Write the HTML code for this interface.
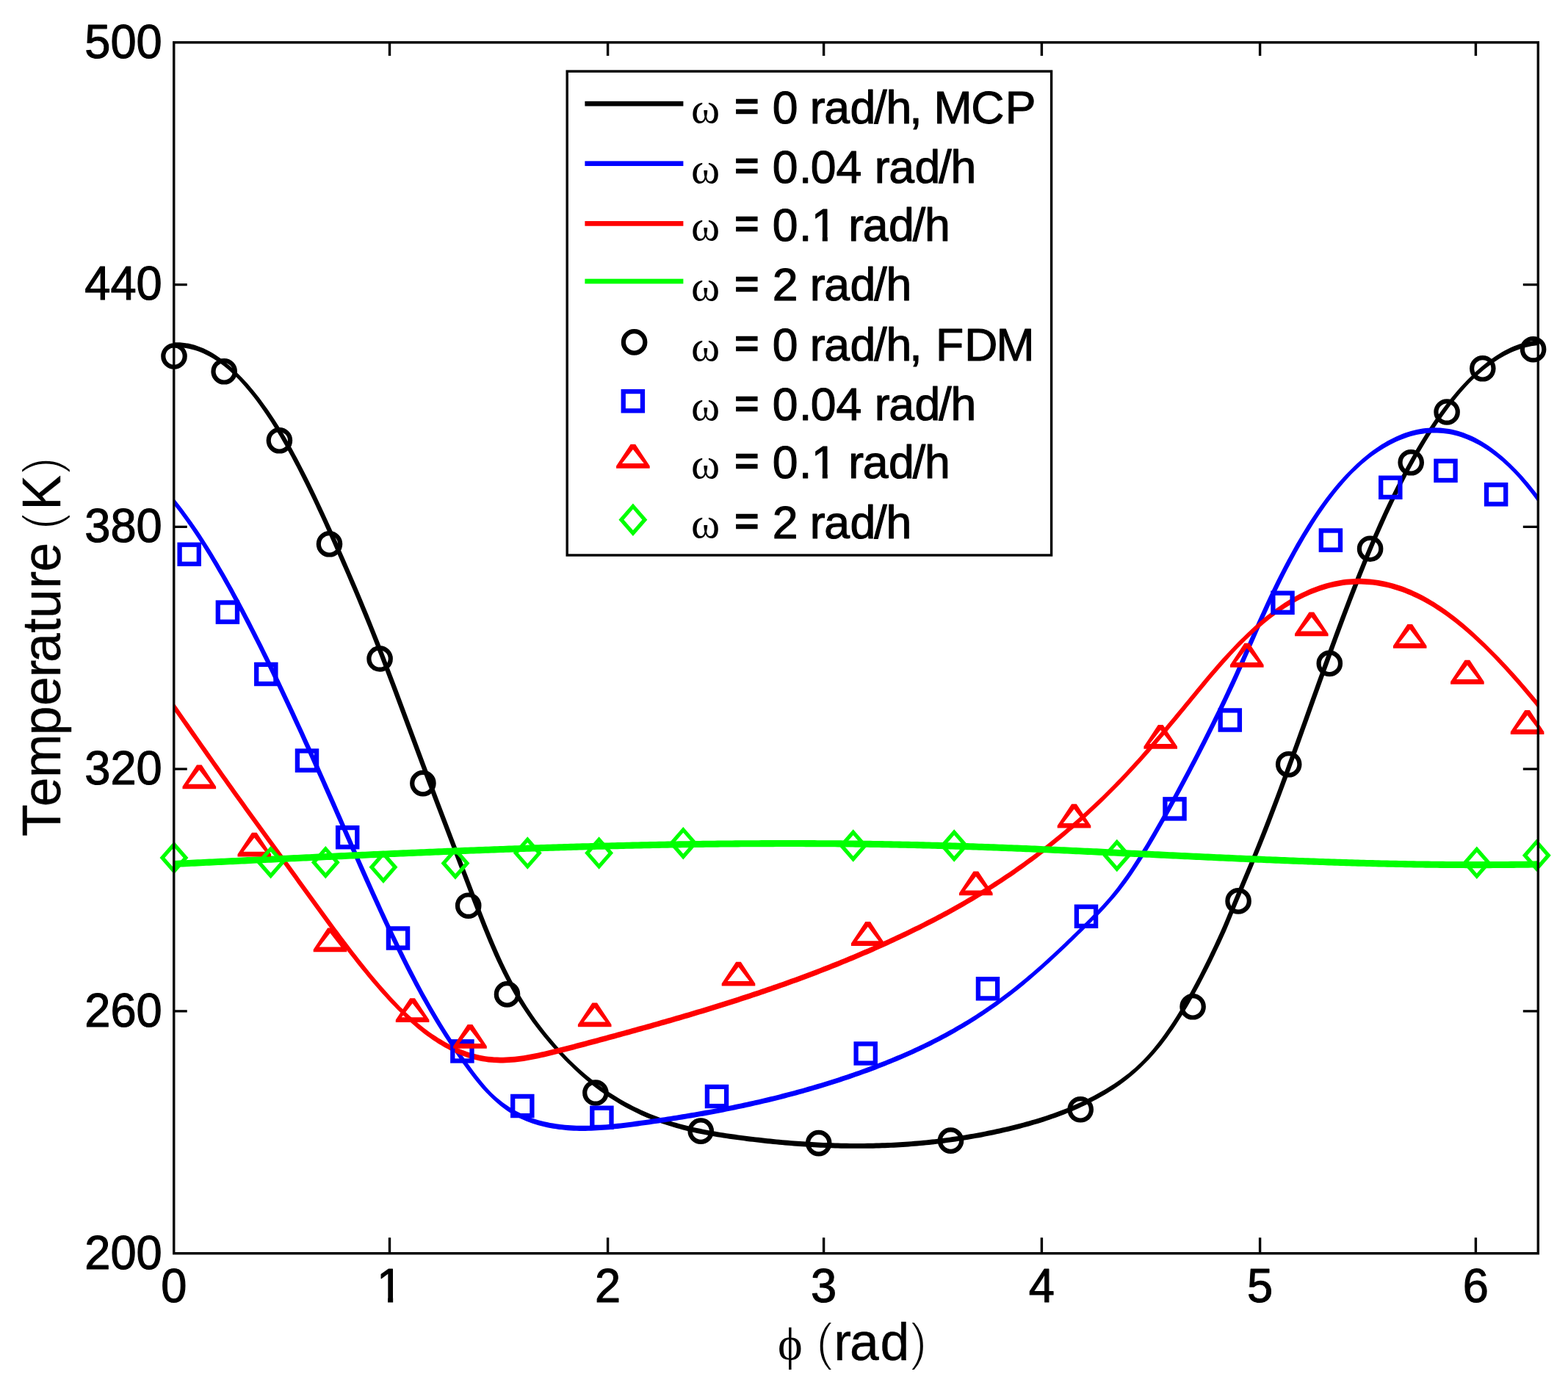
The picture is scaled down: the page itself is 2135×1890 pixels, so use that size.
<!DOCTYPE html>
<html lang="en"><head><meta charset="utf-8"><title>Temperature vs phi</title>
<style>html,body{margin:0;padding:0;background:#fff;}body{width:2135px;height:1890px;overflow:hidden;}svg{display:block;}text{font-family:"Liberation Sans", sans-serif;fill:#000;}.s{font-family:"Liberation Serif", serif;}</style>
</head><body>
<svg width="2135" height="1890" viewBox="0 0 2135 1890">
<rect x="0" y="0" width="2135" height="1890" fill="#fff"/>
<g stroke="none">
<path fill="#000" d="M237 466.35 L241 466.24 L245 466.34 L249 466.63 L253 467.14 L257 467.84 L261 468.74 L265 469.84 L269 471.14 L273 472.64 L277 474.34 L281 476.23 L285 478.32 L289 480.61 L293 483.08 L297 485.75 L301 488.62 L305 491.67 L309 494.91 L313 498.35 L317 501.97 L321 505.78 L325 509.71 L329 513.74 L333 517.95 L337 522.36 L341 526.94 L345 531.72 L349 536.67 L353 541.81 L357 547.13 L361 552.63 L365 558.31 L369 564.17 L373 570.2 L377 576.42 L381 582.81 L385 589.37 L389 596.12 L393 603.03 L397 610.12 L401 617.39 L405 624.82 L409 632.41 L413 640.15 L417 648.04 L421 656.07 L425 664.22 L429 672.5 L433 680.9 L437 689.4 L441 698.01 L445 706.71 L449 715.5 L453 724.37 L457 733.31 L461 742.32 L465 751.38 L469 760.5 L473 769.66 L477 778.89 L481 788.19 L485 797.55 L489 807 L493 816.53 L497 826.15 L501 835.87 L505 845.7 L509 855.64 L513 865.69 L517 875.85 L521 886.12 L525 896.47 L529 906.91 L533 917.42 L537 927.99 L541 938.62 L545 949.3 L549 960.01 L553 970.75 L557 981.5 L561 992.27 L565 1003.04 L569 1013.8 L573 1024.53 L577 1035.25 L581 1045.93 L585 1056.59 L589 1067.22 L593 1077.82 L597 1088.41 L601 1098.97 L605 1109.52 L609 1120.04 L613 1130.55 L617 1141.04 L621 1151.52 L625 1161.99 L629 1172.44 L633 1182.89 L637 1193.32 L641 1203.75 L645 1214.19 L649 1224.61 L653 1234.98 L657 1245.27 L661 1255.44 L665 1265.44 L669 1275.25 L673 1284.81 L677 1294.1 L681 1303.06 L685 1311.69 L689 1319.99 L693 1327.97 L697 1335.66 L701 1343.05 L705 1350.17 L709 1357.01 L713 1363.6 L717 1369.95 L721 1376.07 L725 1381.97 L729 1387.67 L733 1393.18 L737 1398.52 L741 1403.69 L745 1408.71 L749 1413.59 L753 1418.35 L757 1422.99 L761 1427.52 L765 1431.92 L769 1436.22 L773 1440.4 L777 1444.4 L781 1448.28 L785 1452.04 L789 1455.7 L793 1459.26 L797 1462.72 L801 1466.07 L805 1469.33 L809 1472.5 L813 1475.57 L817 1478.55 L821 1481.43 L825 1484.23 L829 1486.94 L833 1489.56 L837 1492.1 L841 1494.56 L845 1496.94 L849 1499.24 L853 1501.46 L857 1503.6 L861 1505.68 L865 1507.68 L869 1509.6 L873 1511.46 L877 1513.26 L881 1514.99 L885 1516.65 L889 1518.25 L893 1519.79 L897 1521.28 L901 1522.7 L905 1524.08 L909 1525.39 L913 1526.66 L917 1527.88 L921 1529.04 L925 1530.16 L929 1531.24 L933 1532.27 L937 1533.26 L941 1534.21 L945 1535.13 L949 1536 L953 1536.84 L957 1537.65 L961 1538.43 L965 1539.18 L969 1539.89 L973 1540.59 L977 1541.25 L981 1541.9 L985 1542.52 L989 1543.13 L993 1543.71 L997 1544.28 L1001 1544.84 L1005 1545.38 L1009 1545.91 L1013 1546.43 L1017 1546.94 L1021 1547.44 L1025 1547.93 L1029 1548.4 L1033 1548.87 L1037 1549.32 L1041 1549.76 L1045 1550.19 L1049 1550.61 L1053 1551.01 L1057 1551.4 L1061 1551.78 L1065 1552.15 L1069 1552.5 L1073 1552.84 L1077 1553.17 L1081 1553.49 L1085 1553.79 L1089 1554.08 L1093 1554.36 L1097 1554.62 L1101 1554.87 L1105 1555.11 L1109 1555.33 L1113 1555.54 L1117 1555.73 L1121 1555.91 L1125 1556.08 L1129 1556.23 L1133 1556.37 L1137 1556.49 L1141 1556.6 L1145 1556.69 L1149 1556.77 L1153 1556.83 L1157 1556.88 L1161 1556.91 L1165 1556.93 L1169 1556.93 L1173 1556.92 L1177 1556.89 L1181 1556.84 L1185 1556.78 L1189 1556.7 L1193 1556.61 L1197 1556.5 L1201 1556.37 L1205 1556.23 L1209 1556.07 L1213 1555.89 L1217 1555.7 L1221 1555.49 L1225 1555.26 L1229 1555.01 L1233 1554.75 L1237 1554.47 L1241 1554.17 L1245 1553.86 L1249 1553.52 L1253 1553.17 L1257 1552.8 L1261 1552.42 L1265 1552.01 L1269 1551.59 L1273 1551.14 L1277 1550.68 L1281 1550.2 L1285 1549.7 L1289 1549.19 L1293 1548.65 L1297 1548.09 L1301 1547.52 L1305 1546.92 L1309 1546.31 L1313 1545.67 L1317 1545.02 L1321 1544.34 L1325 1543.65 L1329 1542.93 L1333 1542.2 L1337 1541.44 L1341 1540.67 L1345 1539.87 L1349 1539.06 L1353 1538.22 L1357 1537.36 L1361 1536.48 L1365 1535.58 L1369 1534.65 L1373 1533.71 L1377 1532.74 L1381 1531.76 L1385 1530.75 L1389 1529.72 L1393 1528.66 L1397 1527.58 L1401 1526.47 L1405 1525.33 L1409 1524.16 L1413 1522.96 L1417 1521.72 L1421 1520.45 L1425 1519.15 L1429 1517.81 L1433 1516.42 L1437 1515 L1441 1513.54 L1445 1512.03 L1449 1510.48 L1453 1508.88 L1457 1507.24 L1461 1505.54 L1465 1503.8 L1469 1502 L1473 1500.15 L1477 1498.25 L1481 1496.28 L1485 1494.26 L1489 1492.19 L1493 1490.05 L1497 1487.85 L1501 1485.58 L1505 1483.25 L1509 1480.84 L1513 1478.35 L1517 1475.76 L1521 1473.07 L1525 1470.28 L1529 1467.37 L1533 1464.34 L1537 1461.18 L1541 1457.87 L1545 1454.42 L1549 1450.81 L1553 1447.04 L1557 1443.07 L1561 1438.8 L1565 1434.33 L1569 1429.66 L1573 1424.78 L1577 1419.71 L1581 1414.43 L1585 1408.96 L1589 1403.3 L1593 1397.44 L1597 1391.39 L1601 1385.15 L1605 1378.72 L1609 1372.11 L1613 1365.32 L1617 1358.34 L1621 1351.19 L1625 1343.86 L1629 1336.35 L1633 1328.67 L1637 1320.82 L1641 1312.81 L1645 1304.65 L1649 1296.35 L1653 1287.92 L1657 1279.36 L1661 1270.61 L1665 1261.54 L1669 1252.02 L1673 1242.16 L1677 1232.39 L1681 1222.82 L1685 1213.3 L1689 1203.82 L1693 1194.34 L1697 1184.84 L1701 1175.28 L1705 1165.65 L1709 1155.91 L1713 1146.04 L1717 1136.01 L1721 1125.84 L1725 1115.53 L1729 1105.1 L1733 1094.56 L1737 1083.91 L1741 1073.17 L1745 1062.34 L1749 1051.44 L1753 1040.46 L1757 1029.43 L1761 1018.35 L1765 1007.22 L1769 996.07 L1773 984.89 L1777 973.7 L1781 962.51 L1785 951.32 L1789 940.15 L1793 929 L1797 917.88 L1801 906.8 L1805 895.78 L1809 884.8 L1813 873.89 L1817 863.05 L1821 852.28 L1825 841.6 L1829 831 L1833 820.5 L1837 810.1 L1841 799.8 L1845 789.62 L1849 779.56 L1853 769.63 L1857 759.84 L1861 750.18 L1865 740.68 L1869 731.32 L1873 722.13 L1877 713.11 L1881 704.25 L1885 695.55 L1889 687.02 L1893 678.66 L1897 670.46 L1901 662.42 L1905 654.55 L1909 646.84 L1913 639.3 L1917 631.91 L1921 624.7 L1925 617.64 L1929 610.75 L1933 604.02 L1937 597.45 L1941 591.05 L1945 584.81 L1949 578.73 L1953 572.81 L1957 567.05 L1961 561.46 L1965 556.03 L1969 550.75 L1973 545.64 L1977 540.69 L1981 535.9 L1985 531.27 L1989 526.8 L1993 522.49 L1997 518.34 L2001 514.35 L2005 510.42 L2009 506.62 L2013 502.98 L2017 499.49 L2021 496.16 L2025 492.99 L2029 489.98 L2033 487.13 L2037 484.44 L2041 481.9 L2045 479.53 L2049 477.31 L2053 475.24 L2057 473.34 L2061 471.59 L2065 470 L2069 468.56 L2073 467.29 L2077 466.16 L2081 465.2 L2085 464.39 L2089 463.73 L2093 463.24 L2094.6 463.08 L2094.6 470.02 L2093 470.17 L2089 470.67 L2085 471.33 L2081 472.14 L2077 473.1 L2073 474.22 L2069 475.5 L2065 476.94 L2061 478.53 L2057 480.28 L2053 482.18 L2049 484.24 L2045 486.46 L2041 488.84 L2037 491.38 L2033 494.07 L2029 496.92 L2025 499.93 L2021 503.1 L2017 506.43 L2013 509.91 L2009 513.56 L2005 517.36 L2001 521.36 L1997 525.62 L1993 530.03 L1989 534.61 L1985 539.35 L1981 544.25 L1977 549.3 L1973 554.52 L1969 559.9 L1965 565.44 L1961 571.15 L1957 577.01 L1953 583.04 L1949 589.22 L1945 595.57 L1941 602.09 L1937 608.76 L1933 615.6 L1929 622.6 L1925 629.76 L1921 637.09 L1917 644.58 L1913 652.23 L1909 660.05 L1905 668.03 L1901 676.18 L1897 684.49 L1893 692.97 L1889 701.6 L1885 710.41 L1881 719.38 L1877 728.51 L1873 737.81 L1869 747.27 L1865 756.87 L1861 766.62 L1857 776.51 L1853 786.53 L1849 796.67 L1845 806.92 L1841 817.29 L1837 827.76 L1833 838.33 L1829 848.98 L1825 859.73 L1821 870.54 L1817 881.43 L1813 892.38 L1809 903.39 L1805 914.45 L1801 925.56 L1797 936.7 L1793 947.86 L1789 959.05 L1785 970.24 L1781 981.43 L1777 992.61 L1773 1003.78 L1769 1014.91 L1765 1026.01 L1761 1037.06 L1757 1048.05 L1753 1058.98 L1749 1069.84 L1745 1080.61 L1741 1091.29 L1737 1101.87 L1733 1112.34 L1729 1122.69 L1725 1132.91 L1721 1142.99 L1717 1152.92 L1713 1162.71 L1709 1172.37 L1705 1181.95 L1701 1191.47 L1697 1200.95 L1693 1210.43 L1689 1219.93 L1685 1229.48 L1681 1239.11 L1677 1248.84 L1673 1258.58 L1669 1267.97 L1665 1276.82 L1661 1285.4 L1657 1293.83 L1653 1302.17 L1649 1310.38 L1645 1318.44 L1641 1326.34 L1637 1334.08 L1633 1341.65 L1629 1349.04 L1625 1356.25 L1621 1363.28 L1617 1370.14 L1613 1376.81 L1609 1383.3 L1605 1389.6 L1601 1395.71 L1597 1401.63 L1593 1407.36 L1589 1412.9 L1585 1418.24 L1581 1423.38 L1577 1428.33 L1573 1433.07 L1569 1437.61 L1565 1441.94 L1561 1446.09 L1557 1450.06 L1553 1453.98 L1549 1457.75 L1545 1461.36 L1541 1464.81 L1537 1468.11 L1533 1471.28 L1529 1474.31 L1525 1477.22 L1521 1480.01 L1517 1482.7 L1513 1485.28 L1509 1487.78 L1505 1490.18 L1501 1492.52 L1497 1494.78 L1493 1496.98 L1489 1499.12 L1485 1501.2 L1481 1503.22 L1477 1505.18 L1473 1507.09 L1469 1508.94 L1465 1510.73 L1461 1512.48 L1457 1514.17 L1453 1515.82 L1449 1517.42 L1445 1518.97 L1441 1520.48 L1437 1521.94 L1433 1523.36 L1429 1524.74 L1425 1526.09 L1421 1527.39 L1417 1528.66 L1413 1529.89 L1409 1531.09 L1405 1532.26 L1401 1533.4 L1397 1534.51 L1393 1535.6 L1389 1536.65 L1385 1537.69 L1381 1538.69 L1377 1539.68 L1373 1540.65 L1369 1541.59 L1365 1542.51 L1361 1543.42 L1357 1544.3 L1353 1545.15 L1349 1545.99 L1345 1546.81 L1341 1547.61 L1337 1548.38 L1333 1549.14 L1329 1549.87 L1325 1550.59 L1321 1551.28 L1317 1551.95 L1313 1552.61 L1309 1553.24 L1305 1553.86 L1301 1554.45 L1297 1555.03 L1293 1555.58 L1289 1556.12 L1285 1556.64 L1281 1557.14 L1277 1557.62 L1273 1558.08 L1269 1558.52 L1265 1558.95 L1261 1559.35 L1257 1559.74 L1253 1560.11 L1249 1560.46 L1245 1560.79 L1241 1561.11 L1237 1561.41 L1233 1561.69 L1229 1561.95 L1225 1562.19 L1221 1562.42 L1217 1562.63 L1213 1562.83 L1209 1563 L1205 1563.16 L1201 1563.31 L1197 1563.43 L1193 1563.54 L1189 1563.64 L1185 1563.72 L1181 1563.78 L1177 1563.82 L1173 1563.85 L1169 1563.87 L1165 1563.87 L1161 1563.85 L1157 1563.82 L1153 1563.77 L1149 1563.7 L1145 1563.63 L1141 1563.53 L1137 1563.43 L1133 1563.3 L1129 1563.17 L1125 1563.02 L1121 1562.85 L1117 1562.67 L1113 1562.47 L1109 1562.27 L1105 1562.04 L1101 1561.81 L1097 1561.56 L1093 1561.3 L1089 1561.02 L1085 1560.73 L1081 1560.43 L1077 1560.11 L1073 1559.78 L1069 1559.44 L1065 1559.09 L1061 1558.72 L1057 1558.34 L1053 1557.95 L1049 1557.54 L1045 1557.13 L1041 1556.7 L1037 1556.26 L1033 1555.8 L1029 1555.34 L1025 1554.87 L1021 1554.38 L1017 1553.88 L1013 1553.37 L1009 1552.85 L1005 1552.32 L1001 1551.78 L997 1551.22 L993 1550.65 L989 1550.06 L985 1549.46 L981 1548.84 L977 1548.19 L973 1547.52 L969 1546.83 L965 1546.11 L961 1545.37 L957 1544.59 L953 1543.78 L949 1542.94 L945 1542.06 L941 1541.15 L937 1540.2 L933 1539.21 L929 1538.18 L925 1537.1 L921 1535.98 L917 1534.81 L913 1533.6 L909 1532.33 L905 1531.01 L901 1529.64 L897 1528.21 L893 1526.73 L889 1525.19 L885 1523.59 L881 1521.92 L877 1520.19 L873 1518.4 L869 1516.54 L865 1514.61 L861 1512.61 L857 1510.54 L853 1508.4 L849 1506.17 L845 1503.88 L841 1501.5 L837 1499.04 L833 1496.5 L829 1493.88 L825 1491.17 L821 1488.37 L817 1485.48 L813 1482.5 L809 1479.43 L805 1476.27 L801 1473.01 L797 1469.65 L793 1466.2 L789 1462.64 L785 1458.98 L781 1455.21 L777 1451.34 L773 1447.39 L769 1443.39 L765 1439.29 L761 1435.07 L757 1430.74 L753 1426.29 L749 1421.73 L745 1417.05 L741 1412.26 L737 1407.33 L733 1402.26 L729 1397.04 L725 1391.65 L721 1386.08 L717 1380.31 L713 1374.33 L709 1368.14 L705 1361.71 L701 1355.04 L697 1348.11 L693 1340.9 L689 1333.41 L685 1325.63 L681 1317.54 L677 1309.13 L673 1300.38 L669 1291.29 L665 1281.9 L661 1272.25 L657 1262.38 L653 1252.32 L649 1242.11 L645 1231.78 L641 1221.39 L637 1210.98 L633 1200.55 L629 1190.12 L625 1179.68 L621 1169.24 L617 1158.78 L613 1148.31 L609 1137.82 L605 1127.33 L601 1116.81 L597 1106.28 L593 1095.73 L589 1085.16 L585 1074.57 L581 1063.95 L577 1053.31 L573 1042.65 L569 1031.95 L565 1021.23 L561 1010.48 L557 999.72 L553 988.95 L549 978.19 L545 967.43 L541 956.7 L537 946 L533 935.34 L529 924.73 L525 914.18 L521 903.69 L517 893.28 L513 882.96 L509 872.72 L505 862.6 L501 852.59 L497 842.69 L493 832.9 L489 823.21 L485 813.62 L481 804.12 L477 794.7 L473 785.36 L469 776.09 L465 766.88 L461 757.73 L457 748.63 L453 739.58 L449 730.59 L445 721.67 L441 712.83 L437 704.07 L433 695.4 L429 686.82 L425 678.36 L421 670 L417 661.76 L413 653.64 L409 645.66 L405 637.82 L401 630.13 L397 622.59 L393 615.22 L389 608.01 L385 600.98 L381 594.12 L377 587.44 L373 580.93 L369 574.6 L365 568.44 L361 562.46 L357 556.66 L353 551.04 L349 545.61 L345 540.35 L341 535.27 L337 530.38 L333 525.67 L329 521.14 L325 516.8 L321 512.72 L317 508.91 L313 505.29 L309 501.85 L305 498.61 L301 495.55 L297 492.69 L293 490.02 L289 487.54 L285 485.26 L281 483.17 L277 481.28 L273 479.58 L269 478.08 L265 476.78 L261 475.68 L257 474.78 L253 474.07 L249 473.57 L245 473.27 L241 473.18 L237 473.28Z"/>
<path fill="#00f" d="M237 678.85 L241 683.81 L245 688.87 L249 694.07 L253 699.41 L257 704.88 L261 710.5 L265 716.24 L269 722.11 L273 728.12 L277 734.24 L281 740.48 L285 746.84 L289 753.32 L293 759.91 L297 766.6 L301 773.41 L305 780.31 L309 787.32 L313 794.42 L317 801.61 L321 808.9 L325 816.28 L329 823.74 L333 831.28 L337 838.9 L341 846.6 L345 854.38 L349 862.22 L353 870.13 L357 878.11 L361 886.16 L365 894.26 L369 902.43 L373 910.66 L377 918.95 L381 927.3 L385 935.7 L389 944.15 L393 952.65 L397 961.2 L401 969.8 L405 978.44 L409 987.13 L413 995.86 L417 1004.63 L421 1013.43 L425 1022.27 L429 1031.15 L433 1040.06 L437 1049 L441 1057.97 L445 1066.96 L449 1075.98 L453 1085.02 L457 1094.09 L461 1103.18 L465 1112.28 L469 1121.39 L473 1130.51 L477 1139.62 L481 1148.73 L485 1157.84 L489 1166.92 L493 1175.98 L497 1185.02 L501 1194.03 L505 1202.99 L509 1211.92 L513 1220.79 L517 1229.61 L521 1238.38 L525 1247.08 L529 1255.71 L533 1264.26 L537 1272.73 L541 1281.12 L545 1289.42 L549 1297.62 L553 1305.72 L557 1313.71 L561 1321.59 L565 1329.36 L569 1337 L573 1344.5 L577 1351.88 L581 1359.12 L585 1366.23 L589 1373.21 L593 1380.07 L597 1386.8 L601 1393.42 L605 1399.91 L609 1406.29 L613 1412.56 L617 1418.72 L621 1424.77 L625 1430.71 L629 1436.55 L633 1442.29 L637 1447.94 L641 1453.5 L645 1458.93 L649 1464.23 L653 1469.35 L657 1474.29 L661 1479.02 L665 1483.5 L669 1487.65 L673 1491.44 L677 1495 L681 1498.33 L685 1501.45 L689 1504.36 L693 1507.08 L697 1509.6 L701 1511.94 L705 1514.11 L709 1516.12 L713 1517.96 L717 1519.66 L721 1521.22 L725 1522.65 L729 1523.95 L733 1525.13 L737 1526.21 L741 1527.19 L745 1528.08 L749 1528.89 L753 1529.61 L757 1530.25 L761 1530.81 L765 1531.3 L769 1531.72 L773 1532.06 L777 1532.35 L781 1532.56 L785 1532.72 L789 1532.81 L793 1532.85 L797 1532.84 L801 1532.77 L805 1532.65 L809 1532.49 L813 1532.29 L817 1532.04 L821 1531.76 L825 1531.44 L829 1531.09 L833 1530.7 L837 1530.29 L841 1529.86 L845 1529.4 L849 1528.92 L853 1528.42 L857 1527.91 L861 1527.39 L865 1526.85 L869 1526.31 L873 1525.76 L877 1525.21 L881 1524.65 L885 1524.08 L889 1523.51 L893 1522.93 L897 1522.34 L901 1521.75 L905 1521.14 L909 1520.54 L913 1519.92 L917 1519.29 L921 1518.66 L925 1518.02 L929 1517.37 L933 1516.71 L937 1516.05 L941 1515.37 L945 1514.69 L949 1514 L953 1513.3 L957 1512.58 L961 1511.86 L965 1511.13 L969 1510.4 L973 1509.65 L977 1508.89 L981 1508.12 L985 1507.34 L989 1506.55 L993 1505.75 L997 1504.94 L1001 1504.12 L1005 1503.28 L1009 1502.44 L1013 1501.58 L1017 1500.72 L1021 1499.84 L1025 1498.95 L1029 1498.05 L1033 1497.13 L1037 1496.21 L1041 1495.27 L1045 1494.32 L1049 1493.36 L1053 1492.38 L1057 1491.39 L1061 1490.39 L1065 1489.37 L1069 1488.35 L1073 1487.3 L1077 1486.25 L1081 1485.18 L1085 1484.1 L1089 1483 L1093 1481.89 L1097 1480.76 L1101 1479.62 L1105 1478.47 L1109 1477.3 L1113 1476.11 L1117 1474.91 L1121 1473.7 L1125 1472.47 L1129 1471.22 L1133 1469.96 L1137 1468.69 L1141 1467.39 L1145 1466.08 L1149 1464.76 L1153 1463.42 L1157 1462.06 L1161 1460.69 L1165 1459.29 L1169 1457.89 L1173 1456.46 L1177 1455.02 L1181 1453.56 L1185 1452.08 L1189 1450.58 L1193 1449.07 L1197 1447.53 L1201 1445.98 L1205 1444.4 L1209 1442.8 L1213 1441.18 L1217 1439.54 L1221 1437.87 L1225 1436.18 L1229 1434.47 L1233 1432.73 L1237 1430.96 L1241 1429.17 L1245 1427.35 L1249 1425.5 L1253 1423.62 L1257 1421.71 L1261 1419.77 L1265 1417.81 L1269 1415.81 L1273 1413.77 L1277 1411.71 L1281 1409.61 L1285 1407.48 L1289 1405.32 L1293 1403.12 L1297 1400.88 L1301 1398.61 L1305 1396.3 L1309 1393.95 L1313 1391.57 L1317 1389.14 L1321 1386.68 L1325 1384.17 L1329 1381.63 L1333 1379.04 L1337 1376.41 L1341 1373.74 L1345 1371.02 L1349 1368.26 L1353 1365.46 L1357 1362.61 L1361 1359.71 L1365 1356.77 L1369 1353.78 L1373 1350.74 L1377 1347.65 L1381 1344.52 L1385 1341.33 L1389 1338.1 L1393 1334.81 L1397 1331.49 L1401 1328.11 L1405 1324.7 L1409 1321.24 L1413 1317.74 L1417 1314.2 L1421 1310.63 L1425 1307.02 L1429 1303.37 L1433 1299.69 L1437 1295.98 L1441 1292.23 L1445 1288.46 L1449 1284.66 L1453 1280.83 L1457 1276.98 L1461 1273.11 L1465 1269.21 L1469 1265.29 L1473 1261.35 L1477 1257.39 L1481 1253.42 L1485 1249.41 L1489 1245.34 L1493 1241.21 L1497 1236.99 L1501 1232.66 L1505 1228.22 L1509 1223.63 L1513 1218.9 L1517 1213.99 L1521 1208.9 L1525 1203.6 L1529 1198.12 L1533 1192.46 L1537 1186.64 L1541 1180.65 L1545 1174.51 L1549 1168.24 L1553 1161.82 L1557 1155.29 L1561 1148.63 L1565 1141.87 L1569 1135.01 L1573 1128.05 L1577 1121.02 L1581 1113.91 L1585 1106.73 L1589 1099.5 L1593 1092.22 L1597 1084.89 L1601 1077.52 L1605 1070.09 L1609 1062.61 L1613 1055.08 L1617 1047.5 L1621 1039.86 L1625 1032.17 L1629 1024.42 L1633 1016.61 L1637 1008.74 L1641 1000.8 L1645 992.81 L1649 984.74 L1653 976.6 L1657 968.38 L1661 960.07 L1665 951.68 L1669 943.19 L1673 934.61 L1677 925.93 L1681 917.13 L1685 908.23 L1689 899.22 L1693 890.13 L1697 880.99 L1701 871.84 L1705 862.7 L1709 853.61 L1713 844.6 L1717 835.69 L1721 826.91 L1725 818.29 L1729 809.83 L1733 801.51 L1737 793.35 L1741 785.35 L1745 777.5 L1749 769.8 L1753 762.26 L1757 754.88 L1761 747.66 L1765 740.6 L1769 733.7 L1773 726.97 L1777 720.39 L1781 713.98 L1785 707.74 L1789 701.66 L1793 695.75 L1797 690 L1801 684.43 L1805 679.03 L1809 673.79 L1813 668.72 L1817 663.82 L1821 659.08 L1825 654.5 L1829 650.08 L1833 645.83 L1837 641.73 L1841 637.78 L1845 633.86 L1849 630.09 L1853 626.48 L1857 623.02 L1861 619.71 L1865 616.54 L1869 613.53 L1873 610.66 L1877 607.93 L1881 605.34 L1885 602.9 L1889 600.59 L1893 598.43 L1897 596.39 L1901 594.5 L1905 592.74 L1909 591.11 L1913 589.62 L1917 588.26 L1921 587.05 L1925 585.97 L1929 585.03 L1933 584.23 L1937 583.56 L1941 583.04 L1945 582.66 L1949 582.43 L1953 582.33 L1957 582.38 L1961 582.57 L1965 582.91 L1969 583.39 L1973 584.02 L1977 584.79 L1981 585.71 L1985 586.78 L1989 588 L1993 589.37 L1997 590.89 L2001 592.56 L2005 594.37 L2009 596.35 L2013 598.47 L2017 600.75 L2021 603.18 L2025 605.76 L2029 608.5 L2033 611.4 L2037 614.45 L2041 617.67 L2045 621.03 L2049 624.56 L2053 628.25 L2057 632.09 L2061 636.03 L2065 640.06 L2069 644.26 L2073 648.61 L2077 653.13 L2081 657.82 L2085 662.66 L2089 667.68 L2093 672.85 L2094.5 674.86 L2094.5 684.32 L2093 682.26 L2089 676.8 L2085 671.51 L2081 666.39 L2077 661.43 L2073 656.64 L2069 652.01 L2065 647.55 L2061 643.24 L2057 639.16 L2053 635.32 L2049 631.63 L2045 628.1 L2041 624.74 L2037 621.52 L2033 618.47 L2029 615.57 L2025 612.83 L2021 610.25 L2017 607.82 L2013 605.54 L2009 603.42 L2005 601.44 L2001 599.63 L1997 597.96 L1993 596.44 L1989 595.07 L1985 593.85 L1981 592.78 L1977 591.86 L1973 591.09 L1969 590.46 L1965 589.98 L1961 589.64 L1957 589.45 L1953 589.4 L1949 589.5 L1945 589.73 L1941 590.11 L1937 590.63 L1933 591.3 L1929 592.1 L1925 593.04 L1921 594.12 L1917 595.33 L1913 596.69 L1909 598.18 L1905 599.81 L1901 601.57 L1897 603.46 L1893 605.5 L1889 607.66 L1885 609.97 L1881 612.41 L1877 615 L1873 617.73 L1869 620.6 L1865 623.61 L1861 626.78 L1857 630.09 L1853 633.55 L1849 637.16 L1845 640.93 L1841 644.85 L1837 649.05 L1833 653.42 L1829 657.94 L1825 662.63 L1821 667.48 L1817 672.49 L1813 677.67 L1809 683.02 L1805 688.53 L1801 694.22 L1797 700.07 L1793 706.1 L1789 712.29 L1785 718.64 L1781 725.16 L1777 731.84 L1773 738.69 L1769 745.7 L1765 752.87 L1761 760.19 L1757 767.68 L1753 775.32 L1749 783.12 L1745 791.07 L1741 799.18 L1737 807.45 L1733 815.86 L1729 824.43 L1725 833.14 L1721 842 L1717 850.98 L1713 860.05 L1709 869.18 L1705 878.33 L1701 887.47 L1697 896.58 L1693 905.63 L1689 914.58 L1685 923.42 L1681 932.14 L1677 940.75 L1673 949.27 L1669 957.7 L1665 966.03 L1661 974.28 L1657 982.45 L1653 990.54 L1649 998.56 L1645 1006.51 L1641 1014.4 L1637 1022.23 L1633 1030 L1629 1037.71 L1625 1045.37 L1621 1052.97 L1617 1060.52 L1613 1068.01 L1609 1075.45 L1605 1082.85 L1601 1090.19 L1597 1097.48 L1593 1104.73 L1589 1111.92 L1585 1119.06 L1581 1126.12 L1577 1133.1 L1573 1139.99 L1569 1146.79 L1565 1153.48 L1561 1160.06 L1557 1166.51 L1553 1172.84 L1549 1179.02 L1545 1185.06 L1541 1190.94 L1537 1196.65 L1533 1202.2 L1529 1207.56 L1525 1212.72 L1521 1217.7 L1517 1222.49 L1513 1227.12 L1509 1231.61 L1505 1235.97 L1501 1240.23 L1497 1244.39 L1493 1248.48 L1489 1252.51 L1485 1256.51 L1481 1260.49 L1477 1264.46 L1473 1268.42 L1469 1272.36 L1465 1276.28 L1461 1280.18 L1457 1284.05 L1453 1287.91 L1449 1291.73 L1445 1295.53 L1441 1299.3 L1437 1303.05 L1433 1306.76 L1429 1310.44 L1425 1314.09 L1421 1317.7 L1417 1321.27 L1413 1324.81 L1409 1328.31 L1405 1331.77 L1401 1335.18 L1397 1338.56 L1393 1341.89 L1389 1345.17 L1385 1348.4 L1381 1351.59 L1377 1354.72 L1373 1357.81 L1369 1360.85 L1365 1363.84 L1361 1366.78 L1357 1369.68 L1353 1372.53 L1349 1375.33 L1345 1378.09 L1341 1380.81 L1337 1383.48 L1333 1386.11 L1329 1388.7 L1325 1391.24 L1321 1393.75 L1317 1396.21 L1313 1398.64 L1309 1401.02 L1305 1403.37 L1301 1405.68 L1297 1407.95 L1293 1410.19 L1289 1412.39 L1285 1414.55 L1281 1416.68 L1277 1418.78 L1273 1420.85 L1269 1422.88 L1265 1424.88 L1261 1426.84 L1257 1428.78 L1253 1430.69 L1249 1432.57 L1245 1434.42 L1241 1436.24 L1237 1438.03 L1233 1439.8 L1229 1441.54 L1225 1443.25 L1221 1444.94 L1217 1446.61 L1213 1448.25 L1209 1449.87 L1205 1451.47 L1201 1453.05 L1197 1454.6 L1193 1456.14 L1189 1457.65 L1185 1459.15 L1181 1460.63 L1177 1462.09 L1173 1463.53 L1169 1464.96 L1165 1466.36 L1161 1467.76 L1157 1469.13 L1153 1470.49 L1149 1471.83 L1145 1473.15 L1141 1474.46 L1137 1475.76 L1133 1477.03 L1129 1478.29 L1125 1479.54 L1121 1480.77 L1117 1481.98 L1113 1483.18 L1109 1484.37 L1105 1485.54 L1101 1486.69 L1097 1487.83 L1093 1488.96 L1089 1490.07 L1085 1491.17 L1081 1492.25 L1077 1493.32 L1073 1494.37 L1069 1495.42 L1065 1496.44 L1061 1497.46 L1057 1498.46 L1053 1499.45 L1049 1500.43 L1045 1501.39 L1041 1502.34 L1037 1503.28 L1033 1504.2 L1029 1505.12 L1025 1506.02 L1021 1506.91 L1017 1507.79 L1013 1508.65 L1009 1509.51 L1005 1510.35 L1001 1511.19 L997 1512.01 L993 1512.82 L989 1513.62 L985 1514.41 L981 1515.19 L977 1515.96 L973 1516.72 L969 1517.47 L965 1518.21 L961 1518.93 L957 1519.65 L953 1520.37 L949 1521.07 L945 1521.76 L941 1522.44 L937 1523.12 L933 1523.78 L929 1524.44 L925 1525.09 L921 1525.73 L917 1526.36 L913 1526.99 L909 1527.61 L905 1528.21 L901 1528.82 L897 1529.41 L893 1530 L889 1530.58 L885 1531.15 L881 1531.72 L877 1532.28 L873 1532.83 L869 1533.38 L865 1533.92 L861 1534.46 L857 1534.98 L853 1535.49 L849 1535.99 L845 1536.47 L841 1536.93 L837 1537.36 L833 1537.77 L829 1538.16 L825 1538.51 L821 1538.83 L817 1539.11 L813 1539.36 L809 1539.56 L805 1539.72 L801 1539.84 L797 1539.91 L793 1539.92 L789 1539.88 L785 1539.79 L781 1539.63 L777 1539.42 L773 1539.14 L769 1538.79 L765 1538.37 L761 1537.88 L757 1537.32 L753 1536.68 L749 1535.96 L745 1535.15 L741 1534.26 L737 1533.28 L733 1532.2 L729 1531.02 L725 1529.72 L721 1528.29 L717 1526.73 L713 1525.03 L709 1523.19 L705 1521.18 L701 1519.01 L697 1516.67 L693 1514.15 L689 1511.43 L685 1508.52 L681 1505.4 L677 1502.07 L673 1498.51 L669 1494.72 L665 1490.82 L661 1486.76 L657 1482.43 L653 1477.86 L649 1473.06 L645 1468.05 L641 1462.87 L637 1457.52 L633 1452.05 L629 1446.47 L625 1440.8 L621 1435.02 L617 1429.15 L613 1423.17 L609 1417.08 L605 1410.89 L601 1404.59 L597 1398.17 L593 1391.63 L589 1384.98 L585 1378.21 L581 1371.31 L577 1364.28 L573 1357.13 L569 1349.84 L565 1342.42 L561 1334.87 L557 1327.19 L553 1319.38 L549 1311.47 L545 1303.44 L541 1295.3 L537 1287.07 L533 1278.74 L529 1270.32 L525 1261.82 L521 1253.24 L517 1244.59 L513 1235.87 L509 1227.08 L505 1218.24 L501 1209.35 L497 1200.41 L493 1191.43 L489 1182.42 L485 1173.37 L481 1164.3 L477 1155.21 L473 1146.1 L469 1136.99 L465 1127.87 L461 1118.75 L457 1109.65 L453 1100.55 L449 1091.47 L445 1082.41 L441 1073.38 L437 1064.37 L433 1055.38 L429 1046.42 L425 1037.49 L421 1028.59 L417 1019.73 L413 1010.9 L409 1002.1 L405 993.35 L401 984.64 L397 975.96 L393 967.33 L389 958.75 L385 950.22 L381 941.73 L377 933.3 L373 924.92 L369 916.59 L365 908.32 L361 900.11 L357 891.96 L353 883.87 L349 875.85 L345 867.89 L341 860 L337 852.18 L333 844.43 L329 836.76 L325 829.16 L321 821.65 L317 814.21 L313 806.87 L309 799.61 L305 792.44 L301 785.37 L297 778.4 L293 771.53 L289 764.76 L285 758.1 L281 751.55 L277 745.11 L273 738.79 L269 732.59 L265 726.5 L261 720.55 L257 714.71 L253 709.01 L249 703.45 L245 698.01 L241 692.72 L237 687.63Z"/>
<path fill="#f00" d="M237 957.13 L241 962.81 L245 968.49 L249 974.18 L253 979.88 L257 985.58 L261 991.29 L265 997 L269 1002.71 L273 1008.42 L277 1014.13 L281 1019.84 L285 1025.54 L289 1031.23 L293 1036.91 L297 1042.59 L301 1048.26 L305 1053.91 L309 1059.55 L313 1065.17 L317 1070.78 L321 1076.38 L325 1081.96 L329 1087.53 L333 1093.08 L337 1098.63 L341 1104.17 L345 1109.7 L349 1115.22 L353 1120.74 L357 1126.25 L361 1131.76 L365 1137.26 L369 1142.77 L373 1148.27 L377 1153.77 L381 1159.27 L385 1164.77 L389 1170.28 L393 1175.79 L397 1181.3 L401 1186.82 L405 1192.35 L409 1197.89 L413 1203.43 L417 1208.97 L421 1214.51 L425 1220.05 L429 1225.58 L433 1231.11 L437 1236.62 L441 1242.11 L445 1247.6 L449 1253.06 L453 1258.49 L457 1263.91 L461 1269.29 L465 1274.64 L469 1279.96 L473 1285.25 L477 1290.49 L481 1295.7 L485 1300.85 L489 1305.97 L493 1311.03 L497 1316.03 L501 1320.99 L505 1325.88 L509 1330.71 L513 1335.48 L517 1340.18 L521 1344.81 L525 1349.37 L529 1353.84 L533 1358.23 L537 1362.54 L541 1366.76 L545 1370.88 L549 1374.83 L553 1378.68 L557 1382.42 L561 1386.05 L565 1389.56 L569 1392.97 L573 1396.25 L577 1399.41 L581 1402.46 L585 1405.38 L589 1408.18 L593 1410.86 L597 1413.42 L601 1415.86 L605 1418.18 L609 1420.38 L613 1422.46 L617 1424.43 L621 1426.27 L625 1427.99 L629 1429.59 L633 1431.08 L637 1432.44 L641 1433.69 L645 1434.81 L649 1435.82 L653 1436.71 L657 1437.48 L661 1438.13 L665 1438.66 L669 1439.08 L673 1439.38 L677 1439.57 L681 1439.66 L685 1439.65 L689 1439.54 L693 1439.35 L697 1439.07 L701 1438.71 L705 1438.27 L709 1437.76 L713 1437.19 L717 1436.55 L721 1435.85 L725 1435.11 L729 1434.31 L733 1433.48 L737 1432.6 L741 1431.69 L745 1430.76 L749 1429.79 L753 1428.81 L757 1427.81 L761 1426.81 L765 1425.79 L769 1424.77 L773 1423.74 L777 1422.7 L781 1421.66 L785 1420.61 L789 1419.56 L793 1418.5 L797 1417.44 L801 1416.37 L805 1415.3 L809 1414.23 L813 1413.15 L817 1412.08 L821 1411 L825 1409.91 L829 1408.83 L833 1407.75 L837 1406.66 L841 1405.57 L845 1404.48 L849 1403.38 L853 1402.28 L857 1401.18 L861 1400.08 L865 1398.97 L869 1397.87 L873 1396.75 L877 1395.64 L881 1394.52 L885 1393.39 L889 1392.27 L893 1391.14 L897 1390 L901 1388.86 L905 1387.72 L909 1386.57 L913 1385.42 L917 1384.27 L921 1383.1 L925 1381.94 L929 1380.77 L933 1379.59 L937 1378.41 L941 1377.22 L945 1376.03 L949 1374.83 L953 1373.63 L957 1372.42 L961 1371.21 L965 1369.99 L969 1368.76 L973 1367.52 L977 1366.28 L981 1365.04 L985 1363.78 L989 1362.52 L993 1361.26 L997 1359.98 L1001 1358.7 L1005 1357.41 L1009 1356.12 L1013 1354.81 L1017 1353.5 L1021 1352.18 L1025 1350.86 L1029 1349.52 L1033 1348.18 L1037 1346.83 L1041 1345.47 L1045 1344.1 L1049 1342.72 L1053 1341.34 L1057 1339.94 L1061 1338.54 L1065 1337.13 L1069 1335.71 L1073 1334.27 L1077 1332.83 L1081 1331.38 L1085 1329.92 L1089 1328.45 L1093 1326.97 L1097 1325.48 L1101 1323.98 L1105 1322.47 L1109 1320.95 L1113 1319.42 L1117 1317.88 L1121 1316.32 L1125 1314.76 L1129 1313.18 L1133 1311.6 L1137 1310 L1141 1308.39 L1145 1306.77 L1149 1305.14 L1153 1303.49 L1157 1301.83 L1161 1300.17 L1165 1298.49 L1169 1296.79 L1173 1295.09 L1177 1293.37 L1181 1291.64 L1185 1289.9 L1189 1288.14 L1193 1286.37 L1197 1284.59 L1201 1282.79 L1205 1280.98 L1209 1279.16 L1213 1277.32 L1217 1275.47 L1221 1273.61 L1225 1271.73 L1229 1269.84 L1233 1267.93 L1237 1266 L1241 1264.06 L1245 1262.11 L1249 1260.13 L1253 1258.14 L1257 1256.14 L1261 1254.11 L1265 1252.07 L1269 1250 L1273 1247.92 L1277 1245.82 L1281 1243.69 L1285 1241.55 L1289 1239.39 L1293 1237.2 L1297 1235 L1301 1232.77 L1305 1230.51 L1309 1228.24 L1313 1225.94 L1317 1223.62 L1321 1221.27 L1325 1218.9 L1329 1216.51 L1333 1214.09 L1337 1211.64 L1341 1209.16 L1345 1206.66 L1349 1204.14 L1353 1201.58 L1357 1199 L1361 1196.39 L1365 1193.75 L1369 1191.08 L1373 1188.38 L1377 1185.65 L1381 1182.89 L1385 1180.1 L1389 1177.28 L1393 1174.42 L1397 1171.54 L1401 1168.62 L1405 1165.67 L1409 1162.68 L1413 1159.67 L1417 1156.61 L1421 1153.53 L1425 1150.41 L1429 1147.25 L1433 1144.05 L1437 1140.83 L1441 1137.56 L1445 1134.26 L1449 1130.92 L1453 1127.54 L1457 1124.12 L1461 1120.66 L1465 1117.17 L1469 1113.64 L1473 1110.06 L1477 1106.45 L1481 1102.79 L1485 1099.1 L1489 1095.36 L1493 1091.58 L1497 1087.75 L1501 1083.89 L1505 1079.98 L1509 1076.03 L1513 1072.02 L1517 1067.94 L1521 1063.81 L1525 1059.64 L1529 1055.43 L1533 1051.17 L1537 1046.86 L1541 1042.5 L1545 1038.1 L1549 1033.65 L1553 1029.15 L1557 1024.61 L1561 1020.04 L1565 1015.42 L1569 1010.77 L1573 1006.09 L1577 1001.38 L1581 996.64 L1585 991.88 L1589 987.09 L1593 982.29 L1597 977.46 L1601 972.62 L1605 967.77 L1609 962.9 L1613 958.03 L1617 953.15 L1621 948.26 L1625 943.39 L1629 938.53 L1633 933.68 L1637 928.86 L1641 924.08 L1645 919.33 L1649 914.62 L1653 909.97 L1657 905.37 L1661 900.83 L1665 896.36 L1669 891.96 L1673 887.64 L1677 883.39 L1681 879.22 L1685 875.12 L1689 871.11 L1693 867.14 L1697 863.22 L1701 859.39 L1705 855.65 L1709 851.99 L1713 848.43 L1717 844.96 L1721 841.59 L1725 838.31 L1729 835.14 L1733 832.06 L1737 829.09 L1741 826.23 L1745 823.47 L1749 820.81 L1753 818.26 L1757 815.81 L1761 813.47 L1765 811.23 L1769 809.09 L1773 807.06 L1777 805.13 L1781 803.3 L1785 801.58 L1789 799.96 L1793 798.44 L1797 797.02 L1801 795.71 L1805 794.5 L1809 793.39 L1813 792.38 L1817 791.47 L1821 790.67 L1825 789.96 L1829 789.36 L1833 788.86 L1837 788.46 L1841 788.16 L1845 787.96 L1849 787.87 L1853 787.87 L1857 787.97 L1861 788.17 L1865 788.48 L1869 788.88 L1873 789.38 L1877 789.98 L1881 790.68 L1885 791.48 L1889 792.38 L1893 793.38 L1897 794.47 L1901 795.67 L1905 796.96 L1909 798.35 L1913 799.84 L1917 801.43 L1921 803.11 L1925 804.9 L1929 806.77 L1933 808.75 L1937 810.83 L1941 813 L1945 815.26 L1949 817.63 L1953 820.09 L1957 822.64 L1961 825.29 L1965 828.02 L1969 830.85 L1973 833.76 L1977 836.76 L1981 839.85 L1985 843.02 L1989 846.26 L1993 849.59 L1997 853 L2001 856.49 L2005 860.05 L2009 863.68 L2013 867.39 L2017 871.17 L2021 875.02 L2025 878.94 L2029 882.91 L2033 886.9 L2037 890.96 L2041 895.08 L2045 899.27 L2049 903.51 L2053 907.81 L2057 912.18 L2061 916.59 L2065 921.06 L2069 925.59 L2073 930.16 L2077 934.78 L2081 939.46 L2085 944.18 L2089 948.94 L2093 953.75 L2094.5 955.57 L2094.5 964.76 L2093 962.92 L2089 958.05 L2085 953.21 L2081 948.42 L2077 943.67 L2073 938.96 L2069 934.31 L2065 929.7 L2061 925.14 L2057 920.64 L2053 916.18 L2049 911.79 L2045 907.44 L2041 903.16 L2037 898.93 L2033 894.77 L2029 890.67 L2025 886.67 L2021 882.76 L2017 878.91 L2013 875.13 L2009 871.42 L2005 867.79 L2001 864.22 L1997 860.74 L1993 857.33 L1989 854 L1985 850.75 L1981 847.58 L1977 844.5 L1973 841.5 L1969 838.59 L1965 835.76 L1961 833.02 L1957 830.38 L1953 827.83 L1949 825.37 L1945 823 L1941 820.73 L1937 818.56 L1933 816.49 L1929 814.51 L1925 812.63 L1921 810.85 L1917 809.17 L1913 807.58 L1909 806.09 L1905 804.7 L1901 803.41 L1897 802.21 L1893 801.12 L1889 800.12 L1885 799.22 L1881 798.42 L1877 797.72 L1873 797.12 L1869 796.62 L1865 796.21 L1861 795.91 L1857 795.71 L1853 795.61 L1849 795.6 L1845 795.7 L1841 795.9 L1837 796.2 L1833 796.6 L1829 797.1 L1825 797.7 L1821 798.4 L1817 799.21 L1813 800.12 L1809 801.12 L1805 802.23 L1801 803.44 L1797 804.76 L1793 806.17 L1789 807.69 L1785 809.31 L1781 811.04 L1777 812.87 L1773 814.8 L1769 816.83 L1765 818.97 L1761 821.21 L1757 823.55 L1753 826 L1749 828.55 L1745 831.21 L1741 833.97 L1737 836.83 L1733 839.8 L1729 842.87 L1725 846.05 L1721 849.32 L1717 852.7 L1713 856.17 L1709 859.73 L1705 863.38 L1701 867.13 L1697 870.96 L1693 874.88 L1689 878.91 L1685 883.06 L1681 887.28 L1677 891.58 L1673 895.96 L1669 900.4 L1665 904.91 L1661 909.49 L1657 914.13 L1653 918.82 L1649 923.56 L1645 928.33 L1641 933.14 L1637 937.98 L1633 942.83 L1629 947.71 L1625 952.59 L1621 957.47 L1617 962.35 L1613 967.21 L1609 972.07 L1605 976.92 L1601 981.75 L1597 986.56 L1593 991.36 L1589 996.13 L1585 1000.88 L1581 1005.6 L1577 1010.29 L1573 1014.95 L1569 1019.57 L1565 1024.16 L1561 1028.71 L1557 1033.22 L1553 1037.69 L1549 1042.11 L1545 1046.48 L1541 1050.81 L1537 1055.08 L1533 1059.31 L1529 1063.5 L1525 1067.64 L1521 1071.73 L1517 1075.78 L1513 1079.78 L1509 1083.76 L1505 1087.72 L1501 1091.63 L1497 1095.49 L1493 1099.31 L1489 1103.09 L1485 1106.83 L1481 1110.53 L1477 1114.18 L1473 1117.8 L1469 1121.37 L1465 1124.91 L1461 1128.4 L1457 1131.86 L1453 1135.27 L1449 1138.65 L1445 1141.99 L1441 1145.3 L1437 1148.56 L1433 1151.79 L1429 1154.99 L1425 1158.14 L1421 1161.26 L1417 1164.35 L1413 1167.4 L1409 1170.42 L1405 1173.41 L1401 1176.36 L1397 1179.27 L1393 1182.16 L1389 1185.01 L1385 1187.84 L1381 1190.63 L1377 1193.39 L1373 1196.11 L1369 1198.81 L1365 1201.48 L1361 1204.12 L1357 1206.74 L1353 1209.32 L1349 1211.87 L1345 1214.4 L1341 1216.9 L1337 1219.38 L1333 1221.82 L1329 1224.24 L1325 1226.64 L1321 1229.01 L1317 1231.36 L1313 1233.68 L1309 1235.98 L1305 1238.25 L1301 1240.5 L1297 1242.73 L1293 1244.94 L1289 1247.13 L1285 1249.29 L1281 1251.43 L1277 1253.55 L1273 1255.66 L1269 1257.74 L1265 1259.8 L1261 1261.85 L1257 1263.87 L1253 1265.88 L1249 1267.87 L1245 1269.84 L1241 1271.8 L1237 1273.74 L1233 1275.66 L1229 1277.57 L1225 1279.47 L1221 1281.35 L1217 1283.21 L1213 1285.06 L1209 1286.9 L1205 1288.72 L1201 1290.53 L1197 1292.32 L1193 1294.11 L1189 1295.88 L1185 1297.63 L1181 1299.38 L1177 1301.11 L1173 1302.82 L1169 1304.53 L1165 1306.22 L1161 1307.9 L1157 1309.57 L1153 1311.23 L1149 1312.87 L1145 1314.51 L1141 1316.13 L1137 1317.74 L1133 1319.33 L1129 1320.92 L1125 1322.5 L1121 1324.06 L1117 1325.61 L1113 1327.16 L1109 1328.69 L1105 1330.21 L1101 1331.72 L1097 1333.22 L1093 1334.71 L1089 1336.19 L1085 1337.66 L1081 1339.12 L1077 1340.57 L1073 1342.01 L1069 1343.44 L1065 1344.86 L1061 1346.28 L1057 1347.68 L1053 1349.07 L1049 1350.46 L1045 1351.84 L1041 1353.21 L1037 1354.57 L1033 1355.92 L1029 1357.26 L1025 1358.59 L1021 1359.92 L1017 1361.24 L1013 1362.55 L1009 1363.86 L1005 1365.15 L1001 1366.44 L997 1367.72 L993 1368.99 L989 1370.26 L985 1371.52 L981 1372.78 L977 1374.02 L973 1375.26 L969 1376.5 L965 1377.72 L961 1378.94 L957 1380.16 L953 1381.37 L949 1382.57 L945 1383.77 L941 1384.96 L937 1386.15 L933 1387.33 L929 1388.5 L925 1389.68 L921 1390.84 L917 1392 L913 1393.16 L909 1394.31 L905 1395.46 L901 1396.6 L897 1397.74 L893 1398.87 L889 1400 L885 1401.13 L881 1402.25 L877 1403.37 L873 1404.49 L869 1405.6 L865 1406.71 L861 1407.82 L857 1408.92 L853 1410.02 L849 1411.12 L845 1412.21 L841 1413.31 L837 1414.4 L833 1415.48 L829 1416.57 L825 1417.65 L821 1418.73 L817 1419.81 L813 1420.89 L809 1421.97 L805 1423.04 L801 1424.11 L797 1425.18 L793 1426.24 L789 1427.3 L785 1428.35 L781 1429.4 L777 1430.44 L773 1431.48 L769 1432.51 L765 1433.53 L761 1434.54 L757 1435.55 L753 1436.55 L749 1437.53 L745 1438.49 L741 1439.43 L737 1440.34 L733 1441.21 L729 1442.05 L725 1442.85 L721 1443.59 L717 1444.29 L713 1444.92 L709 1445.5 L705 1446.01 L701 1446.44 L697 1446.8 L693 1447.08 L689 1447.28 L685 1447.39 L681 1447.4 L677 1447.31 L673 1447.11 L669 1446.81 L665 1446.4 L661 1445.87 L657 1445.21 L653 1444.45 L649 1443.56 L645 1442.55 L641 1441.42 L637 1440.18 L633 1438.81 L629 1437.33 L625 1435.73 L621 1434 L617 1432.16 L613 1430.2 L609 1428.12 L605 1425.92 L601 1423.6 L597 1421.16 L593 1418.6 L589 1415.92 L585 1413.11 L581 1410.19 L577 1407.15 L573 1403.99 L569 1400.7 L565 1397.3 L561 1393.78 L557 1390.15 L553 1386.41 L549 1382.57 L545 1378.62 L541 1374.65 L537 1370.59 L533 1366.43 L529 1362.18 L525 1357.85 L521 1353.43 L517 1348.93 L513 1344.35 L509 1339.69 L505 1334.97 L501 1330.18 L497 1325.33 L493 1320.41 L489 1315.44 L485 1310.41 L481 1305.34 L477 1300.21 L473 1295.04 L469 1289.82 L465 1284.56 L461 1279.27 L457 1273.93 L453 1268.57 L449 1263.18 L445 1257.75 L441 1252.31 L437 1246.84 L433 1241.35 L429 1235.85 L425 1230.34 L421 1224.81 L417 1219.27 L413 1213.73 L409 1208.19 L405 1202.65 L401 1197.11 L397 1191.58 L393 1186.05 L389 1180.54 L385 1175.02 L381 1169.51 L377 1164.01 L373 1158.51 L369 1153.01 L365 1147.51 L361 1142 L357 1136.5 L353 1131 L349 1125.49 L345 1119.97 L341 1114.46 L337 1108.93 L333 1103.4 L329 1097.86 L325 1092.31 L321 1086.74 L317 1081.17 L313 1075.58 L309 1069.99 L305 1064.37 L301 1058.74 L297 1053.1 L293 1047.44 L289 1041.77 L285 1036.09 L281 1030.4 L277 1024.71 L273 1019.01 L269 1013.3 L265 1007.59 L261 1001.88 L257 996.17 L253 990.46 L249 984.75 L245 979.05 L241 973.35 L237 967.67Z"/>
<path fill="#0f0" d="M237 1171.9 L241 1171.71 L245 1171.52 L249 1171.33 L253 1171.14 L257 1170.94 L261 1170.75 L265 1170.56 L269 1170.37 L273 1170.18 L277 1169.99 L281 1169.8 L285 1169.61 L289 1169.42 L293 1169.22 L297 1169.03 L301 1168.84 L305 1168.65 L309 1168.46 L313 1168.27 L317 1168.07 L321 1167.88 L325 1167.69 L329 1167.5 L333 1167.31 L337 1167.12 L341 1166.92 L345 1166.73 L349 1166.54 L353 1166.35 L357 1166.16 L361 1165.97 L365 1165.78 L369 1165.59 L373 1165.4 L377 1165.21 L381 1165.02 L385 1164.83 L389 1164.64 L393 1164.45 L397 1164.26 L401 1164.07 L405 1163.88 L409 1163.69 L413 1163.5 L417 1163.32 L421 1163.13 L425 1162.94 L429 1162.75 L433 1162.57 L437 1162.38 L441 1162.19 L445 1162.01 L449 1161.82 L453 1161.64 L457 1161.45 L461 1161.27 L465 1161.09 L469 1160.9 L473 1160.72 L477 1160.54 L481 1160.35 L485 1160.17 L489 1159.99 L493 1159.81 L497 1159.63 L501 1159.45 L505 1159.27 L509 1159.09 L513 1158.91 L517 1158.74 L521 1158.56 L525 1158.38 L529 1158.2 L533 1158.03 L537 1157.85 L541 1157.68 L545 1157.51 L549 1157.33 L553 1157.16 L557 1156.99 L561 1156.82 L565 1156.65 L569 1156.48 L573 1156.31 L577 1156.14 L581 1155.97 L585 1155.8 L589 1155.64 L593 1155.47 L597 1155.31 L601 1155.14 L605 1154.98 L609 1154.82 L613 1154.66 L617 1154.49 L621 1154.33 L625 1154.18 L629 1154.02 L633 1153.86 L637 1153.7 L641 1153.55 L645 1153.39 L649 1153.24 L653 1153.08 L657 1152.93 L661 1152.78 L665 1152.63 L669 1152.48 L673 1152.33 L677 1152.18 L681 1152.04 L685 1151.89 L689 1151.74 L693 1151.6 L697 1151.46 L701 1151.32 L705 1151.18 L709 1151.04 L713 1150.9 L717 1150.76 L721 1150.62 L725 1150.49 L729 1150.35 L733 1150.22 L737 1150.09 L741 1149.96 L745 1149.83 L749 1149.7 L753 1149.57 L757 1149.44 L761 1149.32 L765 1149.19 L769 1149.07 L773 1148.95 L777 1148.83 L781 1148.71 L785 1148.59 L789 1148.47 L793 1148.36 L797 1148.24 L801 1148.13 L805 1148.02 L809 1147.91 L813 1147.8 L817 1147.69 L821 1147.59 L825 1147.48 L829 1147.38 L833 1147.27 L837 1147.17 L841 1147.07 L845 1146.98 L849 1146.88 L853 1146.78 L857 1146.69 L861 1146.6 L865 1146.51 L869 1146.42 L873 1146.33 L877 1146.24 L881 1146.16 L885 1146.07 L889 1145.99 L893 1145.91 L897 1145.83 L901 1145.75 L905 1145.68 L909 1145.6 L913 1145.53 L917 1145.46 L921 1145.39 L925 1145.32 L929 1145.26 L933 1145.19 L937 1145.13 L941 1145.07 L945 1145.01 L949 1144.95 L953 1144.89 L957 1144.84 L961 1144.78 L965 1144.73 L969 1144.68 L973 1144.63 L977 1144.59 L981 1144.54 L985 1144.5 L989 1144.46 L993 1144.42 L997 1144.38 L1001 1144.35 L1005 1144.31 L1009 1144.28 L1013 1144.25 L1017 1144.22 L1021 1144.2 L1025 1144.17 L1029 1144.15 L1033 1144.13 L1037 1144.11 L1041 1144.09 L1045 1144.08 L1049 1144.07 L1053 1144.05 L1057 1144.05 L1061 1144.04 L1065 1144.03 L1069 1144.03 L1073 1144.03 L1077 1144.03 L1081 1144.03 L1085 1144.04 L1089 1144.04 L1093 1144.05 L1097 1144.06 L1101 1144.08 L1105 1144.09 L1109 1144.11 L1113 1144.13 L1117 1144.15 L1121 1144.17 L1125 1144.2 L1129 1144.23 L1133 1144.26 L1137 1144.29 L1141 1144.32 L1145 1144.36 L1149 1144.4 L1153 1144.44 L1157 1144.48 L1161 1144.53 L1165 1144.57 L1169 1144.62 L1173 1144.68 L1177 1144.73 L1181 1144.79 L1185 1144.85 L1189 1144.91 L1193 1144.97 L1197 1145.04 L1201 1145.1 L1205 1145.18 L1209 1145.25 L1213 1145.32 L1217 1145.4 L1221 1145.48 L1225 1145.56 L1229 1145.65 L1233 1145.73 L1237 1145.82 L1241 1145.92 L1245 1146.01 L1249 1146.11 L1253 1146.21 L1257 1146.31 L1261 1146.41 L1265 1146.52 L1269 1146.63 L1273 1146.74 L1277 1146.85 L1281 1146.97 L1285 1147.08 L1289 1147.2 L1293 1147.32 L1297 1147.45 L1301 1147.57 L1305 1147.7 L1309 1147.83 L1313 1147.96 L1317 1148.09 L1321 1148.23 L1325 1148.37 L1329 1148.51 L1333 1148.65 L1337 1148.79 L1341 1148.93 L1345 1149.08 L1349 1149.23 L1353 1149.37 L1357 1149.52 L1361 1149.68 L1365 1149.83 L1369 1149.99 L1373 1150.14 L1377 1150.3 L1381 1150.46 L1385 1150.62 L1389 1150.78 L1393 1150.95 L1397 1151.11 L1401 1151.28 L1405 1151.44 L1409 1151.61 L1413 1151.78 L1417 1151.95 L1421 1152.13 L1425 1152.3 L1429 1152.47 L1433 1152.65 L1437 1152.82 L1441 1153 L1445 1153.18 L1449 1153.36 L1453 1153.54 L1457 1153.72 L1461 1153.9 L1465 1154.08 L1469 1154.26 L1473 1154.45 L1477 1154.63 L1481 1154.82 L1485 1155 L1489 1155.19 L1493 1155.37 L1497 1155.56 L1501 1155.75 L1505 1155.94 L1509 1156.13 L1513 1156.32 L1517 1156.51 L1521 1156.69 L1525 1156.89 L1529 1157.08 L1533 1157.27 L1537 1157.46 L1541 1157.65 L1545 1157.84 L1549 1158.03 L1553 1158.22 L1557 1158.41 L1561 1158.61 L1565 1158.8 L1569 1158.99 L1573 1159.18 L1577 1159.37 L1581 1159.56 L1585 1159.75 L1589 1159.95 L1593 1160.14 L1597 1160.33 L1601 1160.52 L1605 1160.71 L1609 1160.9 L1613 1161.09 L1617 1161.28 L1621 1161.46 L1625 1161.65 L1629 1161.84 L1633 1162.03 L1637 1162.21 L1641 1162.4 L1645 1162.59 L1649 1162.77 L1653 1162.96 L1657 1163.14 L1661 1163.32 L1665 1163.51 L1669 1163.69 L1673 1163.87 L1677 1164.05 L1681 1164.23 L1685 1164.4 L1689 1164.58 L1693 1164.76 L1697 1164.93 L1701 1165.11 L1705 1165.28 L1709 1165.45 L1713 1165.62 L1717 1165.79 L1721 1165.96 L1725 1166.13 L1729 1166.3 L1733 1166.46 L1737 1166.62 L1741 1166.79 L1745 1166.95 L1749 1167.11 L1753 1167.27 L1757 1167.42 L1761 1167.58 L1765 1167.73 L1769 1167.88 L1773 1168.03 L1777 1168.18 L1781 1168.33 L1785 1168.48 L1789 1168.62 L1793 1168.76 L1797 1168.91 L1801 1169.04 L1805 1169.18 L1809 1169.32 L1813 1169.45 L1817 1169.58 L1821 1169.71 L1825 1169.84 L1829 1169.97 L1833 1170.09 L1837 1170.21 L1841 1170.33 L1845 1170.45 L1849 1170.56 L1853 1170.68 L1857 1170.79 L1861 1170.9 L1865 1171 L1869 1171.11 L1873 1171.21 L1877 1171.31 L1881 1171.41 L1885 1171.5 L1889 1171.59 L1893 1171.68 L1897 1171.77 L1901 1171.86 L1905 1171.94 L1909 1172.02 L1913 1172.1 L1917 1172.17 L1921 1172.24 L1925 1172.31 L1929 1172.38 L1933 1172.44 L1937 1172.5 L1941 1172.56 L1945 1172.61 L1949 1172.67 L1953 1172.72 L1957 1172.76 L1961 1172.81 L1965 1172.85 L1969 1172.88 L1973 1172.92 L1977 1172.95 L1981 1172.98 L1985 1173 L1989 1173.02 L1993 1173.04 L1997 1173.06 L2001 1173.07 L2005 1173.08 L2009 1173.08 L2013 1173.08 L2017 1173.08 L2021 1173.08 L2025 1173.07 L2029 1173.06 L2033 1173.04 L2037 1173.02 L2041 1173 L2045 1172.97 L2049 1172.94 L2053 1172.91 L2057 1172.87 L2061 1172.83 L2065 1172.79 L2069 1172.74 L2073 1172.69 L2077 1172.63 L2081 1172.57 L2085 1172.51 L2089 1172.44 L2093 1172.37 L2094.5 1172.34 L2094.5 1181.41 L2093 1181.44 L2089 1181.51 L2085 1181.58 L2081 1181.64 L2077 1181.7 L2073 1181.76 L2069 1181.81 L2065 1181.86 L2061 1181.9 L2057 1181.94 L2053 1181.98 L2049 1182.02 L2045 1182.05 L2041 1182.07 L2037 1182.09 L2033 1182.11 L2029 1182.13 L2025 1182.14 L2021 1182.15 L2017 1182.15 L2013 1182.16 L2009 1182.15 L2005 1182.15 L2001 1182.14 L1997 1182.13 L1993 1182.11 L1989 1182.09 L1985 1182.07 L1981 1182.05 L1977 1182.02 L1973 1181.99 L1969 1181.95 L1965 1181.92 L1961 1181.88 L1957 1181.83 L1953 1181.79 L1949 1181.74 L1945 1181.69 L1941 1181.63 L1937 1181.57 L1933 1181.51 L1929 1181.45 L1925 1181.38 L1921 1181.31 L1917 1181.24 L1913 1181.17 L1909 1181.09 L1905 1181.01 L1901 1180.93 L1897 1180.84 L1893 1180.75 L1889 1180.66 L1885 1180.57 L1881 1180.48 L1877 1180.38 L1873 1180.28 L1869 1180.18 L1865 1180.07 L1861 1179.97 L1857 1179.86 L1853 1179.75 L1849 1179.63 L1845 1179.52 L1841 1179.4 L1837 1179.28 L1833 1179.16 L1829 1179.04 L1825 1178.91 L1821 1178.78 L1817 1178.65 L1813 1178.52 L1809 1178.39 L1805 1178.25 L1801 1178.12 L1797 1177.98 L1793 1177.84 L1789 1177.69 L1785 1177.55 L1781 1177.4 L1777 1177.26 L1773 1177.11 L1769 1176.96 L1765 1176.8 L1761 1176.65 L1757 1176.49 L1753 1176.34 L1749 1176.18 L1745 1176.02 L1741 1175.86 L1737 1175.7 L1733 1175.53 L1729 1175.37 L1725 1175.2 L1721 1175.03 L1717 1174.86 L1713 1174.69 L1709 1174.52 L1705 1174.35 L1701 1174.18 L1697 1174 L1693 1173.83 L1689 1173.65 L1685 1173.48 L1681 1173.3 L1677 1173.12 L1673 1172.94 L1669 1172.76 L1665 1172.58 L1661 1172.39 L1657 1172.21 L1653 1172.03 L1649 1171.84 L1645 1171.66 L1641 1171.47 L1637 1171.29 L1633 1171.1 L1629 1170.91 L1625 1170.72 L1621 1170.54 L1617 1170.35 L1613 1170.16 L1609 1169.97 L1605 1169.78 L1601 1169.59 L1597 1169.4 L1593 1169.21 L1589 1169.02 L1585 1168.83 L1581 1168.63 L1577 1168.44 L1573 1168.25 L1569 1168.06 L1565 1167.87 L1561 1167.68 L1557 1167.48 L1553 1167.29 L1549 1167.1 L1545 1166.91 L1541 1166.72 L1537 1166.53 L1533 1166.34 L1529 1166.15 L1525 1165.96 L1521 1165.77 L1517 1165.58 L1513 1165.39 L1509 1165.2 L1505 1165.01 L1501 1164.82 L1497 1164.63 L1493 1164.45 L1489 1164.26 L1485 1164.07 L1481 1163.89 L1477 1163.7 L1473 1163.52 L1469 1163.34 L1465 1163.15 L1461 1162.97 L1457 1162.79 L1453 1162.61 L1449 1162.43 L1445 1162.25 L1441 1162.07 L1437 1161.89 L1433 1161.72 L1429 1161.54 L1425 1161.37 L1421 1161.2 L1417 1161.02 L1413 1160.85 L1409 1160.68 L1405 1160.52 L1401 1160.35 L1397 1160.18 L1393 1160.02 L1389 1159.85 L1385 1159.69 L1381 1159.53 L1377 1159.37 L1373 1159.21 L1369 1159.06 L1365 1158.9 L1361 1158.75 L1357 1158.6 L1353 1158.45 L1349 1158.3 L1345 1158.15 L1341 1158 L1337 1157.86 L1333 1157.72 L1329 1157.58 L1325 1157.44 L1321 1157.3 L1317 1157.17 L1313 1157.03 L1309 1156.9 L1305 1156.77 L1301 1156.64 L1297 1156.52 L1293 1156.4 L1289 1156.27 L1285 1156.15 L1281 1156.04 L1277 1155.92 L1273 1155.81 L1269 1155.7 L1265 1155.59 L1261 1155.48 L1257 1155.38 L1253 1155.28 L1249 1155.18 L1245 1155.08 L1241 1154.99 L1237 1154.9 L1233 1154.81 L1229 1154.72 L1225 1154.63 L1221 1154.55 L1217 1154.47 L1213 1154.39 L1209 1154.32 L1205 1154.25 L1201 1154.18 L1197 1154.11 L1193 1154.04 L1189 1153.98 L1185 1153.92 L1181 1153.86 L1177 1153.8 L1173 1153.75 L1169 1153.7 L1165 1153.65 L1161 1153.6 L1157 1153.55 L1153 1153.51 L1149 1153.47 L1145 1153.43 L1141 1153.39 L1137 1153.36 L1133 1153.33 L1129 1153.3 L1125 1153.27 L1121 1153.24 L1117 1153.22 L1113 1153.2 L1109 1153.18 L1105 1153.16 L1101 1153.15 L1097 1153.13 L1093 1153.12 L1089 1153.11 L1085 1153.11 L1081 1153.1 L1077 1153.1 L1073 1153.1 L1069 1153.1 L1065 1153.1 L1061 1153.11 L1057 1153.12 L1053 1153.13 L1049 1153.14 L1045 1153.15 L1041 1153.16 L1037 1153.18 L1033 1153.2 L1029 1153.22 L1025 1153.24 L1021 1153.27 L1017 1153.29 L1013 1153.32 L1009 1153.35 L1005 1153.38 L1001 1153.42 L997 1153.45 L993 1153.49 L989 1153.53 L985 1153.57 L981 1153.61 L977 1153.66 L973 1153.7 L969 1153.75 L965 1153.8 L961 1153.85 L957 1153.91 L953 1153.96 L949 1154.02 L945 1154.08 L941 1154.14 L937 1154.2 L933 1154.26 L929 1154.33 L925 1154.39 L921 1154.46 L917 1154.53 L913 1154.6 L909 1154.67 L905 1154.75 L901 1154.82 L897 1154.9 L893 1154.98 L889 1155.06 L885 1155.14 L881 1155.23 L877 1155.31 L873 1155.4 L869 1155.49 L865 1155.58 L861 1155.67 L857 1155.76 L853 1155.86 L849 1155.95 L845 1156.05 L841 1156.15 L837 1156.25 L833 1156.35 L829 1156.45 L825 1156.55 L821 1156.66 L817 1156.76 L813 1156.87 L809 1156.98 L805 1157.09 L801 1157.2 L797 1157.32 L793 1157.43 L789 1157.55 L785 1157.66 L781 1157.78 L777 1157.9 L773 1158.02 L769 1158.14 L765 1158.26 L761 1158.39 L757 1158.51 L753 1158.64 L749 1158.77 L745 1158.9 L741 1159.03 L737 1159.16 L733 1159.29 L729 1159.42 L725 1159.56 L721 1159.69 L717 1159.83 L713 1159.97 L709 1160.11 L705 1160.25 L701 1160.39 L697 1160.53 L693 1160.67 L689 1160.82 L685 1160.96 L681 1161.11 L677 1161.25 L673 1161.4 L669 1161.55 L665 1161.7 L661 1161.85 L657 1162 L653 1162.15 L649 1162.31 L645 1162.46 L641 1162.62 L637 1162.77 L633 1162.93 L629 1163.09 L625 1163.25 L621 1163.41 L617 1163.57 L613 1163.73 L609 1163.89 L605 1164.05 L601 1164.21 L597 1164.38 L593 1164.54 L589 1164.71 L585 1164.88 L581 1165.04 L577 1165.21 L573 1165.38 L569 1165.55 L565 1165.72 L561 1165.89 L557 1166.06 L553 1166.23 L549 1166.4 L545 1166.58 L541 1166.75 L537 1166.93 L533 1167.1 L529 1167.28 L525 1167.45 L521 1167.63 L517 1167.81 L513 1167.98 L509 1168.16 L505 1168.34 L501 1168.52 L497 1168.7 L493 1168.88 L489 1169.06 L485 1169.24 L481 1169.42 L477 1169.61 L473 1169.79 L469 1169.97 L465 1170.16 L461 1170.34 L457 1170.52 L453 1170.71 L449 1170.89 L445 1171.08 L441 1171.27 L437 1171.45 L433 1171.64 L429 1171.83 L425 1172.01 L421 1172.2 L417 1172.39 L413 1172.58 L409 1172.76 L405 1172.95 L401 1173.14 L397 1173.33 L393 1173.52 L389 1173.71 L385 1173.9 L381 1174.09 L377 1174.28 L373 1174.47 L369 1174.66 L365 1174.85 L361 1175.04 L357 1175.23 L353 1175.42 L349 1175.61 L345 1175.8 L341 1176 L337 1176.19 L333 1176.38 L329 1176.57 L325 1176.76 L321 1176.95 L317 1177.15 L313 1177.34 L309 1177.53 L305 1177.72 L301 1177.91 L297 1178.1 L293 1178.29 L289 1178.49 L285 1178.68 L281 1178.87 L277 1179.06 L273 1179.25 L269 1179.44 L265 1179.63 L261 1179.83 L257 1180.02 L253 1180.21 L249 1180.4 L245 1180.59 L241 1180.78 L237 1180.97Z"/>
</g>
<g fill="none" stroke-width="6.4" stroke-linejoin="miter">
<circle cx="237" cy="485" r="14.7" fill="none" stroke="#000" stroke-width="6.2"/>
<circle cx="305.2" cy="505.8" r="14.7" fill="none" stroke="#000" stroke-width="6.2"/>
<circle cx="380.4" cy="599.8" r="14.7" fill="none" stroke="#000" stroke-width="6.2"/>
<circle cx="448.5" cy="740.8" r="14.7" fill="none" stroke="#000" stroke-width="6.2"/>
<circle cx="517.1" cy="897" r="14.7" fill="none" stroke="#000" stroke-width="6.2"/>
<circle cx="575.9" cy="1066.6" r="14.7" fill="none" stroke="#000" stroke-width="6.2"/>
<circle cx="637.7" cy="1233.2" r="14.7" fill="none" stroke="#000" stroke-width="6.2"/>
<circle cx="690.5" cy="1353.9" r="14.7" fill="none" stroke="#000" stroke-width="6.2"/>
<circle cx="810.9" cy="1488" r="14.7" fill="none" stroke="#000" stroke-width="6.2"/>
<circle cx="954.2" cy="1540.1" r="14.7" fill="none" stroke="#000" stroke-width="6.2"/>
<circle cx="1114.7" cy="1556.6" r="14.7" fill="none" stroke="#000" stroke-width="6.2"/>
<circle cx="1294.5" cy="1553.1" r="14.7" fill="none" stroke="#000" stroke-width="6.2"/>
<circle cx="1471.2" cy="1510.8" r="14.7" fill="none" stroke="#000" stroke-width="6.2"/>
<circle cx="1624.1" cy="1370.8" r="14.7" fill="none" stroke="#000" stroke-width="6.2"/>
<circle cx="1686.1" cy="1226.9" r="14.7" fill="none" stroke="#000" stroke-width="6.2"/>
<circle cx="1754.7" cy="1040.8" r="14.7" fill="none" stroke="#000" stroke-width="6.2"/>
<circle cx="1810.3" cy="903.4" r="14.7" fill="none" stroke="#000" stroke-width="6.2"/>
<circle cx="1865.6" cy="747.3" r="14.7" fill="none" stroke="#000" stroke-width="6.2"/>
<circle cx="1921.2" cy="629.8" r="14.7" fill="none" stroke="#000" stroke-width="6.2"/>
<circle cx="1970.1" cy="561" r="14.7" fill="none" stroke="#000" stroke-width="6.2"/>
<circle cx="2018.8" cy="501.8" r="14.7" fill="none" stroke="#000" stroke-width="6.2"/>
<circle cx="2087.6" cy="475.7" r="14.7" fill="none" stroke="#000" stroke-width="6.2"/>
<rect x="244.6" y="741.7" width="26.2" height="26.2" fill="none" stroke="#00f" stroke-width="6.3"/>
<rect x="296.8" y="820.5" width="26.2" height="26.2" fill="none" stroke="#00f" stroke-width="6.3"/>
<rect x="349.2" y="904.9" width="26.2" height="26.2" fill="none" stroke="#00f" stroke-width="6.3"/>
<rect x="404.9" y="1022.5" width="26.2" height="26.2" fill="none" stroke="#00f" stroke-width="6.3"/>
<rect x="460.1" y="1127.1" width="26.2" height="26.2" fill="none" stroke="#00f" stroke-width="6.3"/>
<rect x="528.9" y="1264.4" width="26.2" height="26.2" fill="none" stroke="#00f" stroke-width="6.3"/>
<rect x="616.3" y="1418.3" width="26.2" height="26.2" fill="none" stroke="#00f" stroke-width="6.3"/>
<rect x="698.2" y="1492.9" width="26.2" height="26.2" fill="none" stroke="#00f" stroke-width="6.3"/>
<rect x="806.3" y="1508.7" width="26.2" height="26.2" fill="none" stroke="#00f" stroke-width="6.3"/>
<rect x="962.9" y="1479.9" width="26.2" height="26.2" fill="none" stroke="#00f" stroke-width="6.3"/>
<rect x="1165.6" y="1421.4" width="26.2" height="26.2" fill="none" stroke="#00f" stroke-width="6.3"/>
<rect x="1331.9" y="1333.2" width="26.2" height="26.2" fill="none" stroke="#00f" stroke-width="6.3"/>
<rect x="1465.9" y="1234.7" width="26.2" height="26.2" fill="none" stroke="#00f" stroke-width="6.3"/>
<rect x="1586.4" y="1088.3" width="26.2" height="26.2" fill="none" stroke="#00f" stroke-width="6.3"/>
<rect x="1661.7" y="967.4" width="26.2" height="26.2" fill="none" stroke="#00f" stroke-width="6.3"/>
<rect x="1733.4" y="807.6" width="26.2" height="26.2" fill="none" stroke="#00f" stroke-width="6.3"/>
<rect x="1798.8" y="722.5" width="26.2" height="26.2" fill="none" stroke="#00f" stroke-width="6.3"/>
<rect x="1880.2" y="650.7" width="26.2" height="26.2" fill="none" stroke="#00f" stroke-width="6.3"/>
<rect x="1955.4" y="627.8" width="26.2" height="26.2" fill="none" stroke="#00f" stroke-width="6.3"/>
<rect x="2024" y="660.2" width="26.2" height="26.2" fill="none" stroke="#00f" stroke-width="6.3"/>
<path d="M268 1041.55 L274.6 1041.55 L294.1 1071.05 L294.1 1074.35 L248.5 1074.35 L248.5 1071.05Z M271.3 1048.55 L256.5 1067.65 L286.1 1067.65Z" fill="#f00" fill-rule="evenodd" stroke="none"/>
<path d="M343 1133.75 L349.6 1133.75 L369.1 1163.25 L369.1 1166.55 L323.5 1166.55 L323.5 1163.25Z M346.3 1140.75 L331.5 1159.85 L361.1 1159.85Z" fill="#f00" fill-rule="evenodd" stroke="none"/>
<path d="M446.2 1263.45 L452.8 1263.45 L472.3 1292.95 L472.3 1296.25 L426.7 1296.25 L426.7 1292.95Z M449.5 1270.45 L434.7 1289.55 L464.3 1289.55Z" fill="#f00" fill-rule="evenodd" stroke="none"/>
<path d="M558.3 1359.25 L564.9 1359.25 L584.4 1388.75 L584.4 1392.05 L538.8 1392.05 L538.8 1388.75Z M561.6 1366.25 L546.8 1385.35 L576.4 1385.35Z" fill="#f00" fill-rule="evenodd" stroke="none"/>
<path d="M636.7 1394.95 L643.3 1394.95 L662.8 1424.45 L662.8 1427.75 L617.2 1427.75 L617.2 1424.45Z M640 1401.95 L625.2 1421.05 L654.8 1421.05Z" fill="#f00" fill-rule="evenodd" stroke="none"/>
<path d="M806.4 1365.4 L813 1365.4 L832.5 1394.9 L832.5 1398.2 L786.9 1398.2 L786.9 1394.9Z M809.7 1372.4 L794.9 1391.5 L824.5 1391.5Z" fill="#f00" fill-rule="evenodd" stroke="none"/>
<path d="M1002.2 1309.8 L1008.8 1309.8 L1028.3 1339.3 L1028.3 1342.6 L982.7 1342.6 L982.7 1339.3Z M1005.5 1316.8 L990.7 1335.9 L1020.3 1335.9Z" fill="#f00" fill-rule="evenodd" stroke="none"/>
<path d="M1178.4 1255.1 L1185 1255.1 L1204.5 1284.6 L1204.5 1287.9 L1158.9 1287.9 L1158.9 1284.6Z M1181.7 1262.1 L1166.9 1281.2 L1196.5 1281.2Z" fill="#f00" fill-rule="evenodd" stroke="none"/>
<path d="M1325.5 1186.45 L1332.1 1186.45 L1351.6 1215.95 L1351.6 1219.25 L1306 1219.25 L1306 1215.95Z M1328.8 1193.45 L1314 1212.55 L1343.6 1212.55Z" fill="#f00" fill-rule="evenodd" stroke="none"/>
<path d="M1459.2 1094.8 L1465.8 1094.8 L1485.3 1124.3 L1485.3 1127.6 L1439.7 1127.6 L1439.7 1124.3Z M1462.5 1101.8 L1447.7 1120.9 L1477.3 1120.9Z" fill="#f00" fill-rule="evenodd" stroke="none"/>
<path d="M1576.9 986.95 L1583.5 986.95 L1603 1016.45 L1603 1019.75 L1557.4 1019.75 L1557.4 1016.45Z M1580.2 993.95 L1565.4 1013.05 L1595 1013.05Z" fill="#f00" fill-rule="evenodd" stroke="none"/>
<path d="M1694.5 875.85 L1701.1 875.85 L1720.6 905.35 L1720.6 908.65 L1675 908.65 L1675 905.35Z M1697.8 882.85 L1683 901.95 L1712.6 901.95Z" fill="#f00" fill-rule="evenodd" stroke="none"/>
<path d="M1782.5 833.5 L1789.1 833.5 L1808.6 863 L1808.6 866.3 L1763 866.3 L1763 863Z M1785.8 840.5 L1771 859.6 L1800.6 859.6Z" fill="#f00" fill-rule="evenodd" stroke="none"/>
<path d="M1916.4 849.95 L1923 849.95 L1942.5 879.45 L1942.5 882.75 L1896.9 882.75 L1896.9 879.45Z M1919.7 856.95 L1904.9 876.05 L1934.5 876.05Z" fill="#f00" fill-rule="evenodd" stroke="none"/>
<path d="M1994.6 898.85 L2001.2 898.85 L2020.7 928.35 L2020.7 931.65 L1975.1 931.65 L1975.1 928.35Z M1997.9 905.85 L1983.1 924.95 L2012.7 924.95Z" fill="#f00" fill-rule="evenodd" stroke="none"/>
<path d="M2076.3 967.1 L2082.9 967.1 L2102.4 996.6 L2102.4 999.9 L2056.8 999.9 L2056.8 996.6Z M2079.6 974.1 L2064.8 993.2 L2094.4 993.2Z" fill="#f00" fill-rule="evenodd" stroke="none"/>
<path d="M237 1149.7 L253 1168 L237 1186.3 L221 1168 Z" fill="none" stroke="#0f0" stroke-width="5.2" stroke-linejoin="miter" stroke-miterlimit="10"/>
<path d="M368.6 1155.9 L384.6 1174.2 L368.6 1192.5 L352.6 1174.2 Z" fill="none" stroke="#0f0" stroke-width="5.2" stroke-linejoin="miter" stroke-miterlimit="10"/>
<path d="M443.3 1155.9 L459.3 1174.2 L443.3 1192.5 L427.3 1174.2 Z" fill="none" stroke="#0f0" stroke-width="5.2" stroke-linejoin="miter" stroke-miterlimit="10"/>
<path d="M522 1162.5 L538 1180.8 L522 1199.1 L506 1180.8 Z" fill="none" stroke="#0f0" stroke-width="5.2" stroke-linejoin="miter" stroke-miterlimit="10"/>
<path d="M620 1157.1 L636 1175.4 L620 1193.7 L604 1175.4 Z" fill="none" stroke="#0f0" stroke-width="5.2" stroke-linejoin="miter" stroke-miterlimit="10"/>
<path d="M718.3 1143.3 L734.3 1161.6 L718.3 1179.9 L702.3 1161.6 Z" fill="none" stroke="#0f0" stroke-width="5.2" stroke-linejoin="miter" stroke-miterlimit="10"/>
<path d="M815.6 1143.3 L831.6 1161.6 L815.6 1179.9 L799.6 1161.6 Z" fill="none" stroke="#0f0" stroke-width="5.2" stroke-linejoin="miter" stroke-miterlimit="10"/>
<path d="M930.3 1129.9 L946.3 1148.2 L930.3 1166.5 L914.3 1148.2 Z" fill="none" stroke="#0f0" stroke-width="5.2" stroke-linejoin="miter" stroke-miterlimit="10"/>
<path d="M1161.7 1133.2 L1177.7 1151.5 L1161.7 1169.8 L1145.7 1151.5 Z" fill="none" stroke="#0f0" stroke-width="5.2" stroke-linejoin="miter" stroke-miterlimit="10"/>
<path d="M1299.2 1133.2 L1315.2 1151.5 L1299.2 1169.8 L1283.2 1151.5 Z" fill="none" stroke="#0f0" stroke-width="5.2" stroke-linejoin="miter" stroke-miterlimit="10"/>
<path d="M1520.8 1146.6 L1536.8 1164.9 L1520.8 1183.2 L1504.8 1164.9 Z" fill="none" stroke="#0f0" stroke-width="5.2" stroke-linejoin="miter" stroke-miterlimit="10"/>
<path d="M2010.8 1156.5 L2026.8 1174.8 L2010.8 1193.1 L1994.8 1174.8 Z" fill="none" stroke="#0f0" stroke-width="5.2" stroke-linejoin="miter" stroke-miterlimit="10"/>
<path d="M2092.3 1146.4 L2108.3 1164.7 L2092.3 1183 L2076.3 1164.7 Z" fill="none" stroke="#0f0" stroke-width="5.2" stroke-linejoin="miter" stroke-miterlimit="10"/>
</g>
<g stroke="#000" stroke-width="3.4" fill="none" stroke-linecap="butt">
<rect x="236.75" y="57.8" width="1857.55" height="1648.9"/>
<path d="M530.5 1706.7 V1685.2 M530.5 57.8 V76 M827.6 1706.7 V1685.2 M827.6 57.8 V76 M1121.6 1706.7 V1685.2 M1121.6 57.8 V76 M1418.4 1706.7 V1685.2 M1418.4 57.8 V76 M1715.6 1706.7 V1685.2 M1715.6 57.8 V76 M2009.4 1706.7 V1685.2 M2009.4 57.8 V76 M236.75 387.58 H254.75 M2094.3 387.58 H2073.8 M236.75 717.36 H254.75 M2094.3 717.36 H2073.8 M236.75 1047.14 H254.75 M2094.3 1047.14 H2073.8 M236.75 1376.92 H254.75 M2094.3 1376.92 H2073.8"/>
</g>
<g stroke="#000" stroke-width="1.1" stroke-linejoin="round">
<g font-size="63.2">
<text transform="translate(236.75 1773.2) scale(1 1.04)" text-anchor="middle">0</text>
<text transform="translate(530.5 1773.2) scale(1 1.04)" text-anchor="middle">1</text>
<text transform="translate(827.6 1773.2) scale(1 1.04)" text-anchor="middle">2</text>
<text transform="translate(1121.6 1773.2) scale(1 1.04)" text-anchor="middle">3</text>
<text transform="translate(1418.4 1773.2) scale(1 1.04)" text-anchor="middle">4</text>
<text transform="translate(1715.6 1773.2) scale(1 1.04)" text-anchor="middle">5</text>
<text transform="translate(2009.4 1773.2) scale(1 1.04)" text-anchor="middle">6</text>
<text transform="translate(220.7 78.7) scale(1 1.04)" text-anchor="end">500</text>
<text transform="translate(220.7 408.48) scale(1 1.04)" text-anchor="end">440</text>
<text transform="translate(220.7 738.26) scale(1 1.04)" text-anchor="end">380</text>
<text transform="translate(220.7 1068.04) scale(1 1.04)" text-anchor="end">320</text>
<text transform="translate(220.7 1397.82) scale(1 1.04)" text-anchor="end">260</text>
<text transform="translate(220.7 1727.6) scale(1 1.04)" text-anchor="end">200</text>
</g>
</g>
<path fill="#fff" d="M516.19 1766.47 H528.07 V1774.75 H516.19 Z M535.16 1766.47 H546.54 V1774.75 H535.16 Z"/>
<g stroke="#000" stroke-width="0.4" stroke-linejoin="round">
<text font-size="71.5"><tspan class="s" x="1058.9" y="1851.2" font-size="64" stroke-width="0">ϕ</tspan><tspan x="0 1111.18" y="1851.1" stroke="#fff" stroke-width="2.2" font-size="70"> (</tspan><tspan x="1135.31 1157.05 1198.62" y="1851.9">rad</tspan><tspan x="1238.91" y="1851.1" stroke="#fff" stroke-width="2.2" font-size="70">)</tspan></text>
<g transform="translate(81.5 1136.6) rotate(-90) scale(1 1.03)"><text font-size="71.5"><tspan x="-2.47 38.39 77.6 135.36 175.54 214.46 234.65 274.84 294.67 335.21 358.14" y="0">Temperature</tspan><tspan x="397.9 415.18" y="-0.8" stroke="#fff" stroke-width="2.2" font-size="70"> (</tspan><tspan x="441.77" y="0">K</tspan><tspan x="491.11" y="-0.8" stroke="#fff" stroke-width="2.2" font-size="70">)</tspan></text></g>
</g>
<rect x="772.2" y="97.1" width="659.4" height="658.9" fill="#fff" stroke="#000" stroke-width="3.4"/>
<rect x="796.4" y="137.86" width="134" height="6.67" fill="#000"/>
<rect x="796.4" y="219.36" width="134" height="6.67" fill="#00f"/>
<rect x="796.4" y="301.06" width="134" height="6.67" fill="#f00"/>
<rect x="796.4" y="379.67" width="134" height="6.67" fill="#0f0"/>
<circle cx="863.6" cy="465.9" r="14.7" fill="none" stroke="#000" stroke-width="6.2"/>
<rect x="848.75" y="533.1" width="26.2" height="26.2" fill="none" stroke="#00f" stroke-width="6.3"/>
<path d="M858.6 604.9 L865.2 604.9 L884.7 634.4 L884.7 637.7 L839.1 637.7 L839.1 634.4Z M861.9 611.9 L847.1 631 L876.7 631Z" fill="#f00" fill-rule="evenodd" stroke="none"/>
<path d="M861.9 689.4 L877.9 707.7 L861.9 726 L845.9 707.7 Z" fill="none" stroke="#0f0" stroke-width="5.2" stroke-linejoin="miter" stroke-miterlimit="10"/>
<g stroke="#000" stroke-width="1.1" stroke-linejoin="round" font-size="62.5">
<text><tspan class="s" x="941" y="167.2" font-size="59.5" stroke-width="0">ω</tspan><tspan x="980.16 1000.56" y="162.8" font-size="56" stroke-width="2.3" stroke-linejoin="miter"> =</tspan><tspan x="1033.27 1051.67 1086.43 1102.64 1122.29 1157.42 1190.27 1206.48 1238.37 1255.73 1271.52 1322.14 1368.74" y="167.5"> 0 rad/h, MCP</tspan></text>
<text><tspan class="s" x="941" y="248.6" font-size="59.5" stroke-width="0">ω</tspan><tspan x="980.16 1000.56" y="244.2" font-size="56" stroke-width="2.3" stroke-linejoin="miter"> =</tspan><tspan x="1033.27 1051.67 1088.07 1103.87 1138.47 1173.23 1190.64 1210.29 1245.42 1278.27 1294.48" y="248.9"> 0.04 rad/h</tspan></text>
<text><tspan class="s" x="941" y="327.3" font-size="59.5" stroke-width="0">ω</tspan><tspan x="980.16 1000.56" y="322.9" font-size="56" stroke-width="2.3" stroke-linejoin="miter"> =</tspan><tspan x="1033.27 1051.67 1088.07 1104.82 1139.58 1155.14 1174.79 1209.92 1242.77 1258.98" y="327.6"> 0.1 rad/h</tspan></text>
<text><tspan class="s" x="941" y="409.1" font-size="59.5" stroke-width="0">ω</tspan><tspan x="980.16 1000.56" y="404.7" font-size="56" stroke-width="2.3" stroke-linejoin="miter"> =</tspan><tspan x="1033.27 1051.67 1086.43 1102.64 1122.29 1157.42 1190.27 1206.48" y="409.4"> 2 rad/h</tspan></text>
<text><tspan class="s" x="941" y="490.5" font-size="59.5" stroke-width="0">ω</tspan><tspan x="980.16 1000.56" y="486.1" font-size="56" stroke-width="2.3" stroke-linejoin="miter"> =</tspan><tspan x="1033.27 1051.67 1086.43 1102.64 1122.29 1157.42 1190.27 1206.48 1238.37 1255.73 1274.1 1313.16 1356.57" y="490.8"> 0 rad/h, FDM</tspan></text>
<text><tspan class="s" x="941" y="571.9" font-size="59.5" stroke-width="0">ω</tspan><tspan x="980.16 1000.56" y="567.5" font-size="56" stroke-width="2.3" stroke-linejoin="miter"> =</tspan><tspan x="1033.27 1051.67 1088.07 1103.87 1138.47 1173.23 1190.64 1210.29 1245.42 1278.27 1294.48" y="572.2"> 0.04 rad/h</tspan></text>
<text><tspan class="s" x="941" y="650.6" font-size="59.5" stroke-width="0">ω</tspan><tspan x="980.16 1000.56" y="646.2" font-size="56" stroke-width="2.3" stroke-linejoin="miter"> =</tspan><tspan x="1033.27 1051.67 1088.07 1104.82 1139.58 1155.14 1174.79 1209.92 1242.77 1258.98" y="650.9"> 0.1 rad/h</tspan></text>
<text><tspan class="s" x="941" y="732.2" font-size="59.5" stroke-width="0">ω</tspan><tspan x="980.16 1000.56" y="727.8" font-size="56" stroke-width="2.3" stroke-linejoin="miter"> =</tspan><tspan x="1033.27 1051.67 1086.43 1102.64 1122.29 1157.42 1190.27 1206.48" y="732.5"> 2 rad/h</tspan></text>
</g>
<path fill="#fff" d="M1108.03 321.18 H1119.78 V329.15 H1108.03 Z M1126.81 321.18 H1138.07 V329.15 H1126.81 Z"/>
<path fill="#fff" d="M1108.03 644.48 H1119.78 V652.45 H1108.03 Z M1126.81 644.48 H1138.07 V652.45 H1126.81 Z"/>
</svg>
</body></html>
